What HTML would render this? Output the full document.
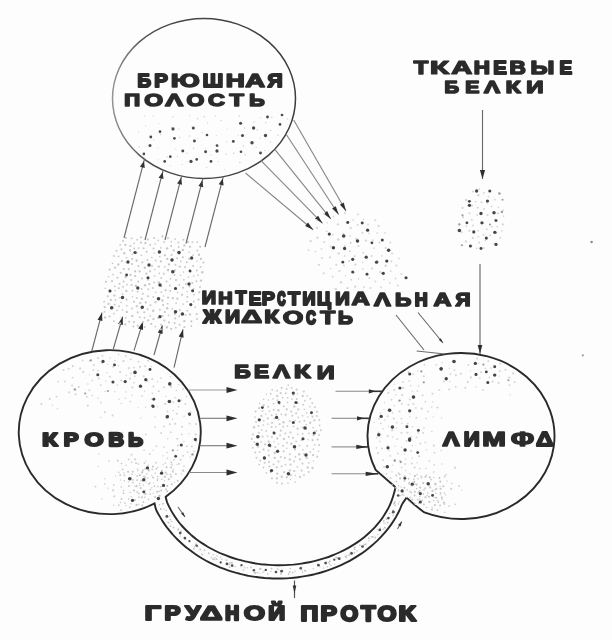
<!DOCTYPE html>
<html><head><meta charset="utf-8"><style>
html,body{margin:0;padding:0;background:#fdfdfd;}
svg{display:block;font-family:"Liberation Sans",sans-serif;filter:blur(0.55px);}
</style></head><body>
<svg width="612" height="640" viewBox="0 0 612 640">
<rect width="612" height="640" fill="#fdfdfd"/>
<g fill="none" stroke="#2a2a2a" stroke-width="1.9">
<defs><linearGradient id="tg" gradientUnits="userSpaceOnUse" x1="110" y1="0" x2="300" y2="0"><stop offset="0" stop-color="#999"/><stop offset="0.2" stop-color="#4a4a4a"/><stop offset="1" stop-color="#3c3c3c"/></linearGradient></defs>
<ellipse cx="204" cy="98.5" rx="91.5" ry="80" stroke="url(#tg)" stroke-width="1.5"/>
<path d="M154.8,503.4 A91,82 0 1 1 165.3,497.1"/>
<path d="M406.6,497.6 Q414,505 424.4,512.4 A93.5,83 0 1 0 375.7,470.0 Q386,479 395.5,487.2"/>
<path d="M165.5,496.5 C165.8,497.5 166.5,500.6 167.2,502.6 C168.0,504.6 169.0,506.5 170.0,508.4 C171.0,510.4 172.1,512.3 173.2,514.1 C174.4,516.0 175.6,517.9 177.0,519.7 C178.3,521.5 179.7,523.2 181.2,525.0 C182.7,526.7 184.3,528.4 185.9,530.0 C187.6,531.7 189.3,533.3 191.1,534.9 C192.9,536.4 194.8,537.9 196.7,539.4 C198.6,540.8 200.6,542.2 202.7,543.6 C204.7,544.9 206.9,546.2 209.0,547.5 C211.2,548.7 213.4,549.9 215.7,551.0 C218.0,552.1 220.3,553.2 222.7,554.2 C225.1,555.2 227.5,556.1 230.0,557.0 C232.4,557.9 234.9,558.7 237.5,559.4 C240.0,560.1 242.6,560.8 245.1,561.4 C247.7,562.0 250.4,562.5 253.0,563.0 C255.6,563.5 258.3,563.8 261.0,564.2 C263.7,564.5 266.4,564.7 269.1,564.9 C271.8,565.1 274.5,565.2 277.2,565.2 C279.9,565.3 282.6,565.2 285.3,565.1 C288.0,565.0 290.7,564.8 293.4,564.6 C296.1,564.3 298.8,564.0 301.4,563.6 C304.1,563.2 306.7,562.7 309.3,562.2 C312.0,561.7 314.6,561.1 317.1,560.4 C319.7,559.7 322.2,559.0 324.7,558.2 C327.2,557.4 329.7,556.5 332.1,555.5 C334.5,554.6 336.9,553.6 339.2,552.5 C341.5,551.5 343.8,550.3 346.0,549.2 C348.3,548.0 350.4,546.7 352.5,545.4 C354.7,544.1 356.7,542.8 358.7,541.4 C360.7,540.0 362.6,538.5 364.5,537.0 C366.3,535.5 368.1,533.9 369.8,532.3 C371.5,530.7 373.2,529.0 374.8,527.4 C376.3,525.7 377.8,523.9 379.2,522.2 C380.6,520.4 382.0,518.6 383.2,516.7 C384.5,514.9 385.6,513.0 386.7,511.1 C387.8,509.2 388.8,507.3 389.7,505.3 C390.6,503.4 391.4,501.4 392.1,499.4 C392.8,497.4 393.5,495.4 394.0,493.3 C394.6,491.3 395.3,488.2 395.5,487.2"/>
<path d="M154.4,502.5 C154.7,503.7 155.2,507.2 156.0,509.4 C156.8,511.7 158.2,513.8 159.4,515.9 C160.6,518.0 161.8,520.1 163.2,522.1 C164.6,524.2 166.0,526.2 167.5,528.2 C169.0,530.1 170.6,532.1 172.3,534.0 C173.9,535.9 175.7,537.7 177.5,539.5 C179.3,541.3 181.2,543.0 183.1,544.7 C185.0,546.4 187.0,548.1 189.1,549.6 C191.2,551.2 193.3,552.8 195.5,554.2 C197.7,555.7 199.9,557.1 202.2,558.5 C204.5,559.8 206.9,561.1 209.2,562.3 C211.6,563.6 214.1,564.7 216.6,565.8 C219.0,566.9 221.6,568.0 224.1,568.9 C226.7,569.9 229.3,570.8 231.9,571.6 C234.5,572.4 237.2,573.2 239.9,573.8 C242.6,574.5 245.3,575.1 248.0,575.7 C250.8,576.2 253.5,576.7 256.3,577.0 C259.1,577.4 261.9,577.7 264.7,578.0 C267.4,578.2 270.3,578.4 273.1,578.5 C275.9,578.6 278.7,578.6 281.5,578.5 C284.3,578.4 287.1,578.3 289.9,578.1 C292.7,577.9 295.5,577.6 298.3,577.2 C301.0,576.9 303.8,576.4 306.5,575.9 C309.3,575.4 312.0,574.8 314.7,574.2 C317.4,573.5 320.1,572.8 322.7,572.0 C325.4,571.2 328.0,570.3 330.5,569.4 C333.1,568.4 335.7,567.4 338.1,566.4 C340.6,565.3 343.1,564.1 345.5,562.9 C347.9,561.7 350.3,560.5 352.6,559.1 C354.9,557.8 357.2,556.4 359.4,554.9 C361.6,553.5 363.7,552.0 365.8,550.4 C367.9,548.8 369.9,547.2 371.9,545.5 C373.8,543.9 375.7,542.1 377.6,540.4 C379.4,538.6 381.1,536.8 382.8,534.9 C384.5,533.0 386.1,531.1 387.7,529.1 C389.2,527.2 390.7,525.2 392.1,523.1 C393.4,521.1 394.7,519.0 396.0,516.9 C397.2,514.8 398.3,512.7 399.4,510.5 C400.5,508.3 401.1,506.1 402.3,503.9 C403.5,501.8 405.9,498.7 406.6,497.6"/>
</g>
<line x1="124.0" y1="238.0" x2="144.5" y2="159.1" stroke="#6a6a6a" stroke-width="1.15"/>
<polygon points="144.0,161.1 144.8,168.0 139.9,166.7" fill="#333"/>
<line x1="145.0" y1="240.0" x2="163.2" y2="170.1" stroke="#6a6a6a" stroke-width="1.15"/>
<polygon points="162.7,172.0 163.5,178.9 158.6,177.7" fill="#333"/>
<line x1="165.0" y1="240.0" x2="181.7" y2="175.9" stroke="#6a6a6a" stroke-width="1.15"/>
<polygon points="181.2,177.8 182.0,184.7 177.1,183.5" fill="#333"/>
<line x1="186.0" y1="243.5" x2="202.9" y2="178.4" stroke="#6a6a6a" stroke-width="1.15"/>
<polygon points="202.4,180.3 203.2,187.3 198.4,186.0" fill="#333"/>
<line x1="205.0" y1="247.0" x2="223.3" y2="176.6" stroke="#6a6a6a" stroke-width="1.15"/>
<polygon points="222.8,178.5 223.6,185.4 218.7,184.2" fill="#333"/>
<line x1="91.8" y1="351.0" x2="102.0" y2="312.7" stroke="#6a6a6a" stroke-width="1.15"/>
<polygon points="102.0,312.7 102.4,321.1 97.5,319.8" fill="#2e2e2e"/>
<line x1="113.3" y1="349.0" x2="122.7" y2="316.7" stroke="#6a6a6a" stroke-width="1.15"/>
<polygon points="122.7,316.7 122.9,325.1 118.1,323.7" fill="#2e2e2e"/>
<line x1="134.0" y1="350.6" x2="143.0" y2="321.6" stroke="#6a6a6a" stroke-width="1.15"/>
<polygon points="143.0,321.6 143.0,330.0 138.2,328.5" fill="#2e2e2e"/>
<line x1="154.0" y1="355.0" x2="162.4" y2="325.5" stroke="#6a6a6a" stroke-width="1.15"/>
<polygon points="162.4,325.5 162.6,333.9 157.8,332.5" fill="#2e2e2e"/>
<line x1="174.0" y1="367.6" x2="183.0" y2="329.4" stroke="#6a6a6a" stroke-width="1.15"/>
<polygon points="183.0,329.4 183.6,337.8 178.7,336.6" fill="#2e2e2e"/>
<line x1="245.5" y1="173.0" x2="313.1" y2="229.7" stroke="#888" stroke-width="1.15"/>
<polygon points="313.1,229.7 305.2,225.9 308.0,222.6" fill="#2e2e2e"/>
<line x1="261.0" y1="160.6" x2="322.5" y2="223.3" stroke="#888" stroke-width="1.15"/>
<polygon points="322.5,223.3 315.0,218.8 318.1,215.7" fill="#2e2e2e"/>
<line x1="275.0" y1="149.7" x2="330.8" y2="218.9" stroke="#888" stroke-width="1.15"/>
<polygon points="330.8,218.9 323.8,213.7 327.2,210.9" fill="#2e2e2e"/>
<line x1="286.0" y1="134.0" x2="338.6" y2="214.5" stroke="#888" stroke-width="1.15"/>
<polygon points="338.6,214.5 332.1,208.6 335.8,206.2" fill="#2e2e2e"/>
<line x1="293.7" y1="120.0" x2="346.0" y2="211.0" stroke="#888" stroke-width="1.15"/>
<polygon points="346.0,211.0 339.9,204.7 343.7,202.5" fill="#2e2e2e"/>
<line x1="396.0" y1="315.0" x2="424.0" y2="350.0" stroke="#6a6a6a" stroke-width="1.15"/>
<line x1="418.0" y1="312.5" x2="443.0" y2="343.0" stroke="#6a6a6a" stroke-width="1.15"/>
<polygon points="443.0,343.0 438.9,339.9 440.8,338.3" fill="#333"/>
<line x1="416.7" y1="351.0" x2="445.0" y2="354.0" stroke="#6a6a6a" stroke-width="1.15"/>
<line x1="482.5" y1="110.0" x2="482.5" y2="179.0" stroke="#6a6a6a" stroke-width="1.15"/>
<polygon points="482.5,179.0 479.9,170.0 485.1,170.0" fill="#2e2e2e"/>
<line x1="480.0" y1="264.0" x2="480.0" y2="354.0" stroke="#6a6a6a" stroke-width="1.15"/>
<polygon points="480.0,354.0 477.7,345.0 482.3,345.0" fill="#2e2e2e"/>
<line x1="188.2" y1="390.0" x2="230.0" y2="390.0" stroke="#999" stroke-width="1.1"/>
<polygon points="237.5,390.0 226.5,392.9 226.5,387.1" fill="#2e2e2e"/>
<line x1="199.7" y1="418.3" x2="230.0" y2="418.3" stroke="#777" stroke-width="1.1"/>
<polygon points="237.5,418.3 226.5,421.2 226.5,415.4" fill="#2e2e2e"/>
<line x1="199.7" y1="445.7" x2="230.0" y2="445.7" stroke="#777" stroke-width="1.1"/>
<polygon points="237.5,445.7 226.5,448.6 226.5,442.8" fill="#2e2e2e"/>
<line x1="189.1" y1="472.5" x2="230.0" y2="472.5" stroke="#888" stroke-width="1.1"/>
<polygon points="237.5,472.5 226.5,475.4 226.5,469.6" fill="#2e2e2e"/>
<line x1="335.5" y1="391.3" x2="369.8" y2="391.3" stroke="#888" stroke-width="1.1"/>
<line x1="369.8" y1="391.3" x2="382.7" y2="391.3" stroke="#333" stroke-width="1.6"/>
<polygon points="375.8,391.3 368.8,393.4 368.8,389.2" fill="#2e2e2e"/>
<line x1="331.6" y1="418.3" x2="358.0" y2="418.3" stroke="#888" stroke-width="1.1"/>
<line x1="358.0" y1="418.3" x2="370.2" y2="418.3" stroke="#333" stroke-width="1.6"/>
<polygon points="364.1,418.3 357.0,420.4 357.0,416.2" fill="#2e2e2e"/>
<line x1="331.6" y1="446.9" x2="357.3" y2="446.9" stroke="#888" stroke-width="1.1"/>
<line x1="357.3" y1="446.9" x2="368.8" y2="446.9" stroke="#333" stroke-width="1.6"/>
<polygon points="367.2,446.9 356.3,449.0 356.3,444.8" fill="#2e2e2e"/>
<line x1="331.6" y1="473.8" x2="366.7" y2="473.8" stroke="#888" stroke-width="1.1"/>
<line x1="366.7" y1="473.8" x2="378.3" y2="473.8" stroke="#333" stroke-width="1.6"/>
<polygon points="377.4,473.8 365.7,475.9 365.7,471.7" fill="#2e2e2e"/>
<line x1="294.5" y1="580.5" x2="294.5" y2="598.0" stroke="#555" stroke-width="1.2"/>
<polygon points="294.5,593.5 292.7,585.5 296.3,585.5" fill="#333"/>
<line x1="178.0" y1="507.0" x2="185.0" y2="517.0" stroke="#6a6a6a" stroke-width="1.15"/>
<polygon points="185.0,517.0 181.1,513.6 183.2,512.2" fill="#2e2e2e"/>
<line x1="397.5" y1="529.0" x2="401.8" y2="521.5" stroke="#6a6a6a" stroke-width="1.15"/>
<polygon points="401.8,521.5 400.6,526.6 398.0,525.1" fill="#2e2e2e"/>
<circle cx="150.8" cy="137.0" r="1.43" fill="#4a4a4a"/><circle cx="160.0" cy="131.7" r="1.36" fill="#4a4a4a"/><circle cx="173.0" cy="128.9" r="1.56" fill="#4a4a4a"/><circle cx="174.4" cy="138.3" r="1.33" fill="#4a4a4a"/><circle cx="193.3" cy="128.0" r="1.51" fill="#4a4a4a"/><circle cx="194.4" cy="141.0" r="1.45" fill="#4a4a4a"/><circle cx="207.0" cy="135.0" r="1.32" fill="#4a4a4a"/><circle cx="150.0" cy="145.6" r="1.50" fill="#4a4a4a"/><circle cx="143.9" cy="153.9" r="1.31" fill="#4a4a4a"/><circle cx="182.8" cy="151.0" r="1.47" fill="#4a4a4a"/><circle cx="170.3" cy="156.7" r="1.33" fill="#4a4a4a"/><circle cx="196.7" cy="159.4" r="1.34" fill="#4a4a4a"/><circle cx="205.6" cy="151.7" r="1.47" fill="#4a4a4a"/><circle cx="217.0" cy="151.0" r="1.63" fill="#4a4a4a"/><circle cx="217.0" cy="145.6" r="1.35" fill="#4a4a4a"/><circle cx="211.0" cy="161.4" r="1.39" fill="#4a4a4a"/><circle cx="240.6" cy="123.3" r="1.55" fill="#4a4a4a"/><circle cx="253.6" cy="128.0" r="1.68" fill="#4a4a4a"/><circle cx="242.5" cy="135.5" r="1.53" fill="#4a4a4a"/><circle cx="233.3" cy="141.4" r="1.46" fill="#4a4a4a"/><circle cx="252.0" cy="142.8" r="1.69" fill="#4a4a4a"/><circle cx="241.0" cy="151.7" r="1.32" fill="#4a4a4a"/><circle cx="265.5" cy="135.5" r="1.64" fill="#4a4a4a"/><circle cx="267.5" cy="117.0" r="1.42" fill="#4a4a4a"/><circle cx="280.0" cy="124.4" r="1.36" fill="#4a4a4a"/><circle cx="282.0" cy="115.0" r="1.35" fill="#4a4a4a"/><circle cx="260.5" cy="153.0" r="1.42" fill="#4a4a4a"/><circle cx="191.0" cy="161.4" r="1.63" fill="#4a4a4a"/><circle cx="164.7" cy="161.4" r="1.37" fill="#4a4a4a"/>
<circle cx="226.3" cy="154.2" r="0.71" fill="#d0d0d0"/><circle cx="193.5" cy="148.2" r="0.70" fill="#d0d0d0"/><circle cx="144.9" cy="115.9" r="0.59" fill="#d0d0d0"/><circle cx="167.3" cy="156.9" r="0.65" fill="#d0d0d0"/><circle cx="202.1" cy="132.7" r="0.64" fill="#d0d0d0"/><circle cx="226.9" cy="141.9" r="0.64" fill="#d0d0d0"/><circle cx="182.1" cy="164.4" r="0.54" fill="#d0d0d0"/><circle cx="244.7" cy="128.1" r="0.77" fill="#d0d0d0"/><circle cx="153.5" cy="139.6" r="0.56" fill="#d0d0d0"/><circle cx="253.9" cy="122.0" r="0.79" fill="#d0d0d0"/><circle cx="239.9" cy="162.5" r="0.78" fill="#d0d0d0"/><circle cx="225.0" cy="169.8" r="0.51" fill="#d0d0d0"/><circle cx="206.6" cy="167.4" r="0.64" fill="#d0d0d0"/><circle cx="239.3" cy="116.0" r="0.75" fill="#d0d0d0"/><circle cx="245.1" cy="154.7" r="0.79" fill="#d0d0d0"/><circle cx="179.7" cy="137.5" r="0.63" fill="#d0d0d0"/><circle cx="207.5" cy="123.1" r="0.58" fill="#d0d0d0"/><circle cx="153.4" cy="115.9" r="0.56" fill="#d0d0d0"/><circle cx="271.8" cy="117.3" r="0.78" fill="#d0d0d0"/><circle cx="205.5" cy="148.3" r="0.56" fill="#d0d0d0"/><circle cx="270.6" cy="130.4" r="0.67" fill="#d0d0d0"/><circle cx="158.7" cy="123.6" r="0.54" fill="#d0d0d0"/><circle cx="171.4" cy="127.4" r="0.66" fill="#d0d0d0"/><circle cx="243.4" cy="146.0" r="0.79" fill="#d0d0d0"/><circle cx="260.3" cy="137.9" r="0.54" fill="#d0d0d0"/><circle cx="197.6" cy="118.8" r="0.75" fill="#d0d0d0"/><circle cx="145.6" cy="125.8" r="0.65" fill="#d0d0d0"/><circle cx="160.5" cy="134.4" r="0.77" fill="#d0d0d0"/><circle cx="189.5" cy="136.0" r="0.71" fill="#d0d0d0"/><circle cx="158.0" cy="147.8" r="0.57" fill="#d0d0d0"/><circle cx="139.2" cy="146.9" r="0.77" fill="#d0d0d0"/><circle cx="256.2" cy="147.2" r="0.65" fill="#d0d0d0"/><circle cx="170.0" cy="165.6" r="0.51" fill="#d0d0d0"/><circle cx="216.3" cy="135.5" r="0.50" fill="#d0d0d0"/><circle cx="178.9" cy="129.1" r="0.65" fill="#d0d0d0"/><circle cx="192.2" cy="126.6" r="0.64" fill="#d0d0d0"/><circle cx="210.3" cy="155.1" r="0.59" fill="#d0d0d0"/><circle cx="260.5" cy="117.6" r="0.54" fill="#d0d0d0"/><circle cx="197.1" cy="138.5" r="0.60" fill="#d0d0d0"/><circle cx="238.2" cy="135.1" r="0.59" fill="#d0d0d0"/><circle cx="221.1" cy="120.6" r="0.75" fill="#d0d0d0"/><circle cx="227.1" cy="129.1" r="0.50" fill="#d0d0d0"/><circle cx="277.9" cy="135.3" r="0.73" fill="#d0d0d0"/><circle cx="218.5" cy="146.6" r="0.75" fill="#d0d0d0"/><circle cx="175.8" cy="148.9" r="0.54" fill="#d0d0d0"/><circle cx="204.4" cy="116.8" r="0.78" fill="#d0d0d0"/><circle cx="172.8" cy="116.8" r="0.71" fill="#d0d0d0"/><circle cx="265.7" cy="122.7" r="0.77" fill="#d0d0d0"/><circle cx="187.0" cy="153.2" r="0.59" fill="#d0d0d0"/><circle cx="215.4" cy="116.2" r="0.61" fill="#d0d0d0"/><circle cx="287.6" cy="118.9" r="0.62" fill="#d0d0d0"/><circle cx="257.3" cy="129.8" r="0.80" fill="#d0d0d0"/><circle cx="270.5" cy="141.9" r="0.68" fill="#d0d0d0"/><circle cx="189.6" cy="115.6" r="0.61" fill="#d0d0d0"/><circle cx="138.5" cy="132.1" r="0.63" fill="#d0d0d0"/><circle cx="218.1" cy="161.5" r="0.58" fill="#d0d0d0"/><circle cx="158.5" cy="159.8" r="0.51" fill="#d0d0d0"/><circle cx="264.7" cy="150.5" r="0.53" fill="#d0d0d0"/><circle cx="233.6" cy="153.3" r="0.75" fill="#d0d0d0"/><circle cx="177.2" cy="156.4" r="0.59" fill="#d0d0d0"/>
<circle cx="200.9" cy="258.9" r="1.15" fill="#c8c8c8"/><circle cx="154.2" cy="253.0" r="0.83" fill="#c8c8c8"/><circle cx="187.3" cy="297.1" r="1.01" fill="#c8c8c8"/><circle cx="147.6" cy="309.3" r="1.05" fill="#c8c8c8"/><circle cx="112.0" cy="281.2" r="1.10" fill="#c8c8c8"/><circle cx="126.6" cy="299.6" r="1.02" fill="#c8c8c8"/><circle cx="159.3" cy="273.4" r="0.82" fill="#c8c8c8"/><circle cx="126.4" cy="291.0" r="1.14" fill="#c8c8c8"/><circle cx="180.5" cy="275.3" r="0.82" fill="#c8c8c8"/><circle cx="153.4" cy="297.0" r="0.94" fill="#c8c8c8"/><circle cx="121.8" cy="261.1" r="1.06" fill="#c8c8c8"/><circle cx="142.0" cy="278.6" r="1.02" fill="#c8c8c8"/><circle cx="191.4" cy="321.3" r="1.09" fill="#c8c8c8"/><circle cx="196.5" cy="281.3" r="0.98" fill="#c8c8c8"/><circle cx="125.3" cy="244.9" r="1.15" fill="#c8c8c8"/><circle cx="155.5" cy="302.2" r="1.14" fill="#c8c8c8"/><circle cx="177.4" cy="298.7" r="1.09" fill="#c8c8c8"/><circle cx="148.3" cy="289.2" r="0.90" fill="#c8c8c8"/><circle cx="169.0" cy="264.4" r="1.13" fill="#c8c8c8"/><circle cx="155.7" cy="292.3" r="0.80" fill="#c8c8c8"/><circle cx="122.6" cy="294.1" r="0.86" fill="#c8c8c8"/><circle cx="131.2" cy="280.1" r="0.99" fill="#c8c8c8"/><circle cx="168.9" cy="322.4" r="1.03" fill="#c8c8c8"/><circle cx="175.5" cy="264.7" r="0.95" fill="#c8c8c8"/><circle cx="135.2" cy="276.1" r="1.15" fill="#c8c8c8"/><circle cx="132.3" cy="316.0" r="1.18" fill="#c8c8c8"/><circle cx="122.4" cy="310.0" r="0.83" fill="#c8c8c8"/><circle cx="118.6" cy="256.3" r="0.92" fill="#c8c8c8"/><circle cx="171.2" cy="328.9" r="1.07" fill="#c8c8c8"/><circle cx="141.3" cy="255.3" r="0.90" fill="#c8c8c8"/><circle cx="200.5" cy="266.9" r="0.94" fill="#c8c8c8"/><circle cx="139.6" cy="271.4" r="1.08" fill="#c8c8c8"/><circle cx="128.8" cy="269.1" r="1.05" fill="#c8c8c8"/><circle cx="188.4" cy="277.2" r="0.81" fill="#c8c8c8"/><circle cx="150.1" cy="271.3" r="1.10" fill="#c8c8c8"/><circle cx="187.3" cy="310.7" r="0.92" fill="#c8c8c8"/><circle cx="126.8" cy="305.7" r="0.83" fill="#c8c8c8"/><circle cx="123.7" cy="281.5" r="0.97" fill="#c8c8c8"/><circle cx="125.6" cy="277.0" r="1.17" fill="#c8c8c8"/><circle cx="179.2" cy="316.3" r="0.95" fill="#c8c8c8"/><circle cx="164.8" cy="266.8" r="0.85" fill="#c8c8c8"/><circle cx="137.8" cy="312.2" r="1.05" fill="#c8c8c8"/><circle cx="158.8" cy="266.6" r="1.19" fill="#c8c8c8"/><circle cx="172.2" cy="308.8" r="0.90" fill="#c8c8c8"/><circle cx="171.1" cy="246.1" r="1.06" fill="#c8c8c8"/><circle cx="179.2" cy="253.9" r="0.97" fill="#c8c8c8"/><circle cx="150.2" cy="315.9" r="0.86" fill="#c8c8c8"/><circle cx="130.3" cy="245.9" r="1.00" fill="#c8c8c8"/><circle cx="147.4" cy="260.0" r="0.93" fill="#c8c8c8"/><circle cx="163.6" cy="296.0" r="0.83" fill="#c8c8c8"/><circle cx="138.6" cy="248.1" r="0.89" fill="#c8c8c8"/><circle cx="134.0" cy="301.8" r="1.00" fill="#c8c8c8"/><circle cx="132.3" cy="254.3" r="0.81" fill="#c8c8c8"/><circle cx="158.3" cy="240.3" r="0.91" fill="#c8c8c8"/><circle cx="141.5" cy="289.0" r="0.91" fill="#c8c8c8"/><circle cx="174.5" cy="275.0" r="0.96" fill="#c8c8c8"/><circle cx="132.4" cy="290.7" r="0.89" fill="#c8c8c8"/><circle cx="142.7" cy="322.3" r="0.91" fill="#c8c8c8"/><circle cx="158.7" cy="298.1" r="1.05" fill="#c8c8c8"/><circle cx="107.8" cy="296.2" r="1.04" fill="#c8c8c8"/><circle cx="153.5" cy="248.6" r="1.00" fill="#c8c8c8"/><circle cx="155.3" cy="326.5" r="0.85" fill="#c8c8c8"/><circle cx="189.2" cy="252.3" r="0.80" fill="#c8c8c8"/><circle cx="159.9" cy="309.7" r="0.94" fill="#c8c8c8"/><circle cx="170.5" cy="278.7" r="0.92" fill="#c8c8c8"/><circle cx="151.8" cy="257.5" r="0.81" fill="#c8c8c8"/><circle cx="183.8" cy="279.8" r="0.90" fill="#c8c8c8"/><circle cx="150.1" cy="244.7" r="1.05" fill="#c8c8c8"/><circle cx="145.4" cy="243.2" r="1.16" fill="#c8c8c8"/><circle cx="154.1" cy="238.1" r="1.00" fill="#c8c8c8"/><circle cx="126.9" cy="284.6" r="0.88" fill="#c8c8c8"/><circle cx="184.3" cy="245.5" r="1.16" fill="#c8c8c8"/><circle cx="168.0" cy="270.0" r="1.20" fill="#c8c8c8"/><circle cx="146.7" cy="251.7" r="1.02" fill="#c8c8c8"/><circle cx="162.4" cy="300.4" r="1.17" fill="#c8c8c8"/><circle cx="114.4" cy="295.6" r="1.15" fill="#c8c8c8"/><circle cx="109.7" cy="269.7" r="1.08" fill="#c8c8c8"/><circle cx="166.6" cy="281.5" r="0.99" fill="#c8c8c8"/><circle cx="125.3" cy="324.4" r="1.16" fill="#c8c8c8"/><circle cx="104.4" cy="311.9" r="0.92" fill="#c8c8c8"/><circle cx="168.6" cy="315.3" r="0.89" fill="#c8c8c8"/><circle cx="132.0" cy="264.0" r="1.07" fill="#c8c8c8"/><circle cx="191.0" cy="305.2" r="1.03" fill="#c8c8c8"/><circle cx="155.6" cy="260.5" r="0.90" fill="#c8c8c8"/><circle cx="126.6" cy="257.6" r="0.91" fill="#c8c8c8"/><circle cx="134.0" cy="322.0" r="1.06" fill="#c8c8c8"/><circle cx="167.7" cy="303.7" r="0.88" fill="#c8c8c8"/><circle cx="126.2" cy="262.3" r="0.85" fill="#c8c8c8"/><circle cx="138.5" cy="266.1" r="1.00" fill="#c8c8c8"/><circle cx="153.4" cy="319.1" r="1.15" fill="#c8c8c8"/><circle cx="175.5" cy="287.8" r="1.09" fill="#c8c8c8"/><circle cx="124.2" cy="253.2" r="1.17" fill="#c8c8c8"/><circle cx="175.3" cy="318.4" r="1.03" fill="#c8c8c8"/><circle cx="119.6" cy="297.8" r="0.82" fill="#c8c8c8"/><circle cx="120.7" cy="272.8" r="1.11" fill="#c8c8c8"/><circle cx="179.5" cy="324.8" r="0.99" fill="#c8c8c8"/><circle cx="183.1" cy="304.0" r="0.87" fill="#c8c8c8"/><circle cx="172.8" cy="298.2" r="1.12" fill="#c8c8c8"/><circle cx="132.4" cy="296.8" r="0.80" fill="#c8c8c8"/><circle cx="144.2" cy="312.2" r="1.07" fill="#c8c8c8"/><circle cx="167.3" cy="259.0" r="1.13" fill="#c8c8c8"/><circle cx="148.1" cy="296.2" r="1.02" fill="#c8c8c8"/><circle cx="155.1" cy="244.1" r="0.83" fill="#c8c8c8"/><circle cx="121.1" cy="302.4" r="0.84" fill="#c8c8c8"/><circle cx="137.1" cy="239.7" r="0.87" fill="#c8c8c8"/><circle cx="136.7" cy="260.5" r="1.17" fill="#c8c8c8"/><circle cx="159.8" cy="256.6" r="0.91" fill="#c8c8c8"/><circle cx="136.8" cy="297.9" r="0.95" fill="#c8c8c8"/><circle cx="164.9" cy="312.1" r="1.09" fill="#c8c8c8"/><circle cx="152.8" cy="288.0" r="0.95" fill="#c8c8c8"/><circle cx="190.5" cy="271.5" r="1.10" fill="#c8c8c8"/><circle cx="168.1" cy="297.6" r="1.14" fill="#c8c8c8"/><circle cx="154.2" cy="282.5" r="0.99" fill="#c8c8c8"/><circle cx="138.3" cy="281.5" r="1.02" fill="#c8c8c8"/><circle cx="185.1" cy="267.1" r="1.04" fill="#c8c8c8"/><circle cx="198.5" cy="299.6" r="1.06" fill="#c8c8c8"/><circle cx="187.1" cy="291.5" r="0.81" fill="#c8c8c8"/><circle cx="121.4" cy="249.2" r="0.95" fill="#c8c8c8"/><circle cx="177.1" cy="258.2" r="0.95" fill="#c8c8c8"/><circle cx="178.3" cy="242.4" r="0.95" fill="#c8c8c8"/><circle cx="176.0" cy="280.1" r="1.12" fill="#c8c8c8"/><circle cx="187.9" cy="242.0" r="1.14" fill="#c8c8c8"/><circle cx="161.2" cy="277.9" r="0.96" fill="#c8c8c8"/><circle cx="113.9" cy="313.7" r="0.87" fill="#c8c8c8"/><circle cx="186.8" cy="262.3" r="1.01" fill="#c8c8c8"/><circle cx="160.9" cy="261.4" r="1.11" fill="#c8c8c8"/><circle cx="182.9" cy="257.3" r="0.96" fill="#c8c8c8"/><circle cx="175.1" cy="270.3" r="0.96" fill="#c8c8c8"/><circle cx="135.9" cy="285.9" r="1.18" fill="#c8c8c8"/><circle cx="126.8" cy="311.9" r="1.17" fill="#c8c8c8"/><circle cx="125.9" cy="237.8" r="1.11" fill="#c8c8c8"/><circle cx="163.8" cy="273.7" r="0.98" fill="#c8c8c8"/><circle cx="167.1" cy="248.3" r="1.17" fill="#c8c8c8"/><circle cx="113.9" cy="321.1" r="0.94" fill="#c8c8c8"/><circle cx="152.0" cy="265.8" r="1.00" fill="#c8c8c8"/><circle cx="171.5" cy="255.1" r="0.99" fill="#c8c8c8"/><circle cx="189.5" cy="286.7" r="0.84" fill="#c8c8c8"/><circle cx="160.8" cy="247.8" r="0.86" fill="#c8c8c8"/><circle cx="193.2" cy="266.1" r="1.00" fill="#c8c8c8"/><circle cx="108.6" cy="303.9" r="1.16" fill="#c8c8c8"/><circle cx="161.4" cy="286.3" r="0.93" fill="#c8c8c8"/><circle cx="112.5" cy="263.4" r="0.83" fill="#c8c8c8"/><circle cx="158.1" cy="318.0" r="1.00" fill="#c8c8c8"/><circle cx="182.9" cy="249.9" r="1.19" fill="#c8c8c8"/><circle cx="115.0" cy="267.7" r="1.11" fill="#c8c8c8"/><circle cx="179.8" cy="310.0" r="0.97" fill="#c8c8c8"/><circle cx="194.0" cy="294.7" r="0.85" fill="#c8c8c8"/><circle cx="147.8" cy="279.8" r="0.94" fill="#c8c8c8"/><circle cx="118.3" cy="264.4" r="1.17" fill="#c8c8c8"/><circle cx="161.3" cy="292.2" r="0.85" fill="#c8c8c8"/><circle cx="183.1" cy="287.8" r="1.00" fill="#c8c8c8"/><circle cx="168.0" cy="238.2" r="0.99" fill="#c8c8c8"/><circle cx="119.6" cy="283.8" r="0.97" fill="#c8c8c8"/><circle cx="189.9" cy="246.8" r="1.10" fill="#c8c8c8"/><circle cx="190.0" cy="314.5" r="1.13" fill="#c8c8c8"/><circle cx="136.8" cy="306.2" r="1.15" fill="#c8c8c8"/><circle cx="164.9" cy="255.3" r="1.16" fill="#c8c8c8"/><circle cx="170.3" cy="290.8" r="1.02" fill="#c8c8c8"/><circle cx="140.9" cy="242.6" r="1.09" fill="#c8c8c8"/><circle cx="110.0" cy="290.2" r="1.15" fill="#c8c8c8"/><circle cx="145.8" cy="302.4" r="1.16" fill="#c8c8c8"/><circle cx="141.3" cy="308.8" r="0.87" fill="#c8c8c8"/><circle cx="144.6" cy="327.0" r="1.08" fill="#c8c8c8"/><circle cx="147.8" cy="239.4" r="1.04" fill="#c8c8c8"/><circle cx="145.1" cy="285.2" r="1.20" fill="#c8c8c8"/><circle cx="118.9" cy="288.3" r="1.03" fill="#c8c8c8"/><circle cx="179.7" cy="266.7" r="1.12" fill="#c8c8c8"/><circle cx="173.7" cy="250.4" r="1.16" fill="#c8c8c8"/><circle cx="119.0" cy="306.3" r="0.96" fill="#c8c8c8"/><circle cx="154.6" cy="276.1" r="0.86" fill="#c8c8c8"/><circle cx="197.4" cy="250.4" r="0.98" fill="#c8c8c8"/><circle cx="160.8" cy="329.3" r="1.16" fill="#c8c8c8"/><circle cx="183.4" cy="239.8" r="1.01" fill="#c8c8c8"/><circle cx="172.3" cy="259.5" r="1.20" fill="#c8c8c8"/><circle cx="179.3" cy="284.9" r="0.93" fill="#c8c8c8"/><circle cx="123.8" cy="268.9" r="1.00" fill="#c8c8c8"/><circle cx="199.3" cy="292.3" r="1.10" fill="#c8c8c8"/><circle cx="151.3" cy="323.9" r="1.07" fill="#c8c8c8"/><circle cx="164.3" cy="320.4" r="1.11" fill="#c8c8c8"/><circle cx="164.1" cy="241.9" r="0.91" fill="#c8c8c8"/><circle cx="134.2" cy="243.3" r="0.87" fill="#c8c8c8"/><circle cx="159.1" cy="252.2" r="1.08" fill="#c8c8c8"/><circle cx="195.1" cy="307.1" r="0.91" fill="#c8c8c8"/><circle cx="167.2" cy="308.3" r="1.18" fill="#c8c8c8"/><circle cx="200.0" cy="286.9" r="1.00" fill="#c8c8c8"/><circle cx="139.9" cy="317.2" r="0.95" fill="#c8c8c8"/><circle cx="130.5" cy="274.8" r="1.17" fill="#c8c8c8"/><circle cx="121.2" cy="317.8" r="0.89" fill="#c8c8c8"/><circle cx="199.0" cy="254.7" r="1.20" fill="#c8c8c8"/><circle cx="141.1" cy="237.3" r="1.00" fill="#c8c8c8"/><circle cx="184.3" cy="321.1" r="1.18" fill="#c8c8c8"/><circle cx="125.7" cy="317.8" r="0.88" fill="#c8c8c8"/><circle cx="171.3" cy="241.6" r="0.86" fill="#c8c8c8"/><circle cx="176.1" cy="303.1" r="0.85" fill="#c8c8c8"/><circle cx="137.9" cy="325.7" r="1.06" fill="#c8c8c8"/><circle cx="136.5" cy="252.6" r="1.15" fill="#c8c8c8"/><circle cx="177.7" cy="292.5" r="0.83" fill="#c8c8c8"/><circle cx="105.9" cy="281.8" r="1.12" fill="#c8c8c8"/><circle cx="142.3" cy="262.3" r="1.06" fill="#c8c8c8"/><circle cx="131.6" cy="238.4" r="0.92" fill="#c8c8c8"/><circle cx="180.8" cy="261.4" r="0.84" fill="#c8c8c8"/><circle cx="109.5" cy="316.5" r="1.08" fill="#c8c8c8"/><circle cx="117.4" cy="277.8" r="0.98" fill="#c8c8c8"/><circle cx="115.4" cy="299.9" r="0.84" fill="#c8c8c8"/><circle cx="193.1" cy="255.2" r="0.85" fill="#c8c8c8"/><circle cx="169.8" cy="285.5" r="0.92" fill="#c8c8c8"/><circle cx="197.2" cy="242.2" r="0.84" fill="#c8c8c8"/><circle cx="193.7" cy="276.0" r="0.86" fill="#c8c8c8"/><circle cx="113.0" cy="274.6" r="0.89" fill="#c8c8c8"/><circle cx="150.5" cy="305.2" r="0.95" fill="#c8c8c8"/><circle cx="144.8" cy="267.8" r="1.19" fill="#c8c8c8"/><circle cx="178.7" cy="247.0" r="0.90" fill="#c8c8c8"/><circle cx="182.0" cy="294.7" r="1.08" fill="#c8c8c8"/><circle cx="198.0" cy="275.1" r="0.84" fill="#c8c8c8"/><circle cx="193.7" cy="288.8" r="0.88" fill="#c8c8c8"/><circle cx="123.0" cy="241.1" r="0.99" fill="#c8c8c8"/><circle cx="196.7" cy="314.0" r="1.05" fill="#c8c8c8"/><circle cx="140.2" cy="303.1" r="1.16" fill="#c8c8c8"/><circle cx="192.3" cy="282.9" r="0.98" fill="#c8c8c8"/><circle cx="161.1" cy="324.7" r="1.02" fill="#c8c8c8"/><circle cx="148.2" cy="320.4" r="1.10" fill="#c8c8c8"/><circle cx="111.0" cy="308.9" r="0.90" fill="#c8c8c8"/><circle cx="135.1" cy="271.4" r="1.11" fill="#c8c8c8"/><circle cx="146.3" cy="273.7" r="1.11" fill="#c8c8c8"/><circle cx="185.6" cy="315.0" r="0.88" fill="#c8c8c8"/><circle cx="165.6" cy="290.3" r="1.10" fill="#c8c8c8"/><circle cx="189.4" cy="258.8" r="1.20" fill="#c8c8c8"/><circle cx="142.9" cy="293.8" r="0.98" fill="#c8c8c8"/><circle cx="115.1" cy="290.8" r="0.81" fill="#c8c8c8"/><circle cx="144.5" cy="317.7" r="0.90" fill="#c8c8c8"/><circle cx="105.2" cy="288.2" r="0.81" fill="#c8c8c8"/><circle cx="153.2" cy="310.8" r="1.20" fill="#c8c8c8"/><circle cx="197.0" cy="261.2" r="0.81" fill="#c8c8c8"/><circle cx="174.8" cy="313.7" r="1.20" fill="#c8c8c8"/><circle cx="104.7" cy="307.2" r="1.10" fill="#c8c8c8"/><circle cx="137.7" cy="291.8" r="0.94" fill="#c8c8c8"/><circle cx="196.8" cy="270.4" r="1.02" fill="#c8c8c8"/><circle cx="187.1" cy="301.6" r="0.92" fill="#c8c8c8"/><circle cx="132.0" cy="308.5" r="0.88" fill="#c8c8c8"/><circle cx="191.4" cy="326.0" r="0.88" fill="#c8c8c8"/><circle cx="114.0" cy="256.0" r="0.92" fill="#c8c8c8"/><circle cx="175.8" cy="327.7" r="0.91" fill="#c8c8c8"/><circle cx="183.5" cy="272.1" r="0.81" fill="#c8c8c8"/><circle cx="132.2" cy="259.1" r="1.14" fill="#c8c8c8"/><circle cx="110.9" cy="299.9" r="1.09" fill="#c8c8c8"/><circle cx="202.3" cy="272.3" r="1.18" fill="#c8c8c8"/><circle cx="154.7" cy="269.5" r="0.83" fill="#c8c8c8"/><circle cx="143.6" cy="248.2" r="1.02" fill="#c8c8c8"/><circle cx="201.0" cy="280.6" r="1.18" fill="#c8c8c8"/><circle cx="158.8" cy="282.5" r="1.20" fill="#c8c8c8"/><circle cx="105.1" cy="317.5" r="1.14" fill="#c8c8c8"/><circle cx="162.4" cy="236.4" r="1.04" fill="#c8c8c8"/><circle cx="184.4" cy="327.1" r="1.02" fill="#c8c8c8"/><circle cx="203.4" cy="262.6" r="1.01" fill="#c8c8c8"/><circle cx="175.2" cy="239.1" r="0.85" fill="#c8c8c8"/><circle cx="114.8" cy="286.3" r="0.86" fill="#c8c8c8"/><circle cx="197.0" cy="319.0" r="0.95" fill="#c8c8c8"/><circle cx="134.2" cy="248.5" r="0.98" fill="#c8c8c8"/><circle cx="108.5" cy="276.8" r="0.81" fill="#c8c8c8"/><circle cx="120.1" cy="323.3" r="1.03" fill="#c8c8c8"/><circle cx="133.4" cy="326.6" r="0.99" fill="#c8c8c8"/><circle cx="104.1" cy="301.7" r="0.88" fill="#c8c8c8"/><circle cx="114.7" cy="304.6" r="0.97" fill="#c8c8c8"/><circle cx="193.8" cy="301.5" r="0.89" fill="#c8c8c8"/><circle cx="163.1" cy="305.1" r="1.06" fill="#c8c8c8"/><circle cx="141.9" cy="298.8" r="1.15" fill="#c8c8c8"/><circle cx="166.9" cy="327.2" r="1.20" fill="#c8c8c8"/><circle cx="174.6" cy="322.9" r="1.02" fill="#c8c8c8"/><circle cx="192.4" cy="242.2" r="0.85" fill="#c8c8c8"/><circle cx="117.1" cy="310.4" r="0.82" fill="#c8c8c8"/><circle cx="123.1" cy="286.8" r="0.95" fill="#c8c8c8"/><circle cx="149.4" cy="284.2" r="1.13" fill="#c8c8c8"/><circle cx="130.2" cy="250.5" r="1.16" fill="#c8c8c8"/><circle cx="200.2" cy="246.8" r="1.13" fill="#c8c8c8"/><circle cx="162.6" cy="316.0" r="1.11" fill="#c8c8c8"/><circle cx="120.2" cy="244.9" r="0.86" fill="#c8c8c8"/><circle cx="131.6" cy="285.0" r="1.09" fill="#c8c8c8"/><circle cx="185.9" cy="284.0" r="0.88" fill="#c8c8c8"/><circle cx="116.5" cy="250.8" r="0.96" fill="#c8c8c8"/><circle cx="129.1" cy="321.8" r="0.93" fill="#c8c8c8"/>
<circle cx="135.0" cy="252.5" r="1.61" fill="#444"/><circle cx="159.4" cy="252.0" r="1.70" fill="#444"/><circle cx="179.0" cy="252.5" r="1.79" fill="#444"/><circle cx="191.7" cy="258.0" r="1.64" fill="#444"/><circle cx="172.0" cy="260.0" r="1.68" fill="#444"/><circle cx="149.0" cy="265.0" r="1.67" fill="#444"/><circle cx="126.6" cy="275.0" r="1.42" fill="#444"/><circle cx="172.8" cy="271.7" r="1.78" fill="#444"/><circle cx="190.0" cy="271.0" r="1.43" fill="#444"/><circle cx="148.0" cy="277.7" r="1.55" fill="#444"/><circle cx="189.0" cy="284.0" r="1.70" fill="#444"/><circle cx="137.8" cy="288.0" r="1.66" fill="#444"/><circle cx="175.5" cy="288.5" r="1.56" fill="#444"/><circle cx="160.0" cy="285.0" r="1.68" fill="#444"/><circle cx="192.6" cy="290.8" r="1.50" fill="#444"/><circle cx="122.5" cy="297.4" r="1.74" fill="#444"/><circle cx="158.5" cy="298.7" r="1.77" fill="#444"/><circle cx="190.8" cy="304.6" r="1.54" fill="#444"/><circle cx="111.7" cy="307.7" r="1.79" fill="#444"/><circle cx="142.3" cy="307.3" r="1.70" fill="#444"/><circle cx="175.5" cy="311.8" r="1.75" fill="#444"/><circle cx="182.4" cy="314.0" r="1.78" fill="#444"/><circle cx="160.0" cy="316.7" r="1.63" fill="#444"/><circle cx="128.0" cy="262.0" r="1.64" fill="#444"/><circle cx="110.0" cy="291.0" r="1.56" fill="#444"/>
<circle cx="343.4" cy="233.7" r="1.04" fill="#d6d6d6"/><circle cx="377.7" cy="261.1" r="0.89" fill="#d6d6d6"/><circle cx="329.9" cy="257.2" r="1.02" fill="#d6d6d6"/><circle cx="392.3" cy="253.4" r="0.97" fill="#d6d6d6"/><circle cx="401.4" cy="274.0" r="0.98" fill="#d6d6d6"/><circle cx="374.2" cy="248.1" r="0.88" fill="#d6d6d6"/><circle cx="337.9" cy="224.3" r="1.17" fill="#d6d6d6"/><circle cx="338.2" cy="239.5" r="1.19" fill="#d6d6d6"/><circle cx="366.0" cy="240.7" r="1.13" fill="#d6d6d6"/><circle cx="362.9" cy="269.0" r="0.87" fill="#d6d6d6"/><circle cx="317.0" cy="227.9" r="1.07" fill="#d6d6d6"/><circle cx="338.7" cy="253.4" r="1.19" fill="#d6d6d6"/><circle cx="358.5" cy="245.9" r="1.00" fill="#d6d6d6"/><circle cx="327.2" cy="222.7" r="0.80" fill="#d6d6d6"/><circle cx="344.8" cy="245.9" r="0.88" fill="#d6d6d6"/><circle cx="350.2" cy="235.9" r="0.90" fill="#d6d6d6"/><circle cx="370.4" cy="288.0" r="0.99" fill="#d6d6d6"/><circle cx="397.8" cy="285.4" r="0.99" fill="#d6d6d6"/><circle cx="385.7" cy="265.8" r="1.19" fill="#d6d6d6"/><circle cx="368.0" cy="224.5" r="0.91" fill="#d6d6d6"/><circle cx="369.3" cy="278.2" r="0.92" fill="#d6d6d6"/><circle cx="343.9" cy="265.4" r="0.87" fill="#d6d6d6"/><circle cx="356.4" cy="238.9" r="1.17" fill="#d6d6d6"/><circle cx="317.5" cy="237.8" r="1.20" fill="#d6d6d6"/><circle cx="349.7" cy="251.2" r="1.04" fill="#d6d6d6"/><circle cx="357.7" cy="225.1" r="1.02" fill="#d6d6d6"/><circle cx="384.0" cy="279.6" r="0.88" fill="#d6d6d6"/><circle cx="381.7" cy="255.9" r="0.83" fill="#d6d6d6"/><circle cx="377.2" cy="233.1" r="0.91" fill="#d6d6d6"/><circle cx="354.2" cy="272.6" r="1.01" fill="#d6d6d6"/><circle cx="354.5" cy="256.3" r="1.13" fill="#d6d6d6"/><circle cx="391.4" cy="261.3" r="1.00" fill="#d6d6d6"/><circle cx="362.7" cy="262.3" r="0.85" fill="#d6d6d6"/><circle cx="351.3" cy="279.7" r="1.03" fill="#d6d6d6"/><circle cx="379.4" cy="242.5" r="1.04" fill="#d6d6d6"/><circle cx="344.8" cy="213.1" r="0.98" fill="#d6d6d6"/><circle cx="396.4" cy="265.5" r="1.10" fill="#d6d6d6"/><circle cx="336.3" cy="264.8" r="1.08" fill="#d6d6d6"/><circle cx="339.4" cy="271.1" r="1.10" fill="#d6d6d6"/><circle cx="390.0" cy="282.9" r="0.84" fill="#d6d6d6"/><circle cx="372.0" cy="268.6" r="1.08" fill="#d6d6d6"/><circle cx="330.6" cy="268.5" r="0.82" fill="#d6d6d6"/><circle cx="363.2" cy="252.8" r="1.00" fill="#d6d6d6"/><circle cx="344.7" cy="255.9" r="0.94" fill="#d6d6d6"/><circle cx="315.5" cy="251.6" r="0.80" fill="#d6d6d6"/><circle cx="390.7" cy="271.0" r="0.89" fill="#d6d6d6"/><circle cx="355.2" cy="286.6" r="1.18" fill="#d6d6d6"/><circle cx="324.2" cy="242.0" r="1.10" fill="#d6d6d6"/><circle cx="324.1" cy="214.0" r="1.13" fill="#d6d6d6"/><circle cx="380.1" cy="272.1" r="1.16" fill="#d6d6d6"/><circle cx="358.5" cy="278.8" r="0.89" fill="#d6d6d6"/><circle cx="326.7" cy="231.4" r="0.88" fill="#d6d6d6"/><circle cx="369.0" cy="233.3" r="0.87" fill="#d6d6d6"/><circle cx="378.6" cy="225.9" r="1.08" fill="#d6d6d6"/><circle cx="375.4" cy="281.4" r="0.88" fill="#d6d6d6"/><circle cx="323.8" cy="273.3" r="1.05" fill="#d6d6d6"/><circle cx="390.3" cy="242.5" r="0.99" fill="#d6d6d6"/><circle cx="318.9" cy="264.8" r="1.15" fill="#d6d6d6"/><circle cx="350.7" cy="227.9" r="1.12" fill="#d6d6d6"/><circle cx="349.1" cy="261.0" r="1.08" fill="#d6d6d6"/><circle cx="375.3" cy="220.3" r="1.06" fill="#d6d6d6"/><circle cx="346.7" cy="222.7" r="0.98" fill="#d6d6d6"/><circle cx="363.9" cy="287.0" r="0.90" fill="#d6d6d6"/><circle cx="330.4" cy="246.5" r="0.90" fill="#d6d6d6"/><circle cx="333.4" cy="216.6" r="0.92" fill="#d6d6d6"/><circle cx="341.0" cy="282.3" r="1.18" fill="#d6d6d6"/><circle cx="371.8" cy="256.0" r="1.05" fill="#d6d6d6"/><circle cx="362.5" cy="232.7" r="0.96" fill="#d6d6d6"/><circle cx="322.0" cy="258.1" r="0.99" fill="#d6d6d6"/><circle cx="358.0" cy="214.4" r="0.93" fill="#d6d6d6"/><circle cx="372.9" cy="240.2" r="0.93" fill="#d6d6d6"/><circle cx="355.4" cy="264.6" r="1.15" fill="#d6d6d6"/><circle cx="308.6" cy="250.2" r="0.91" fill="#d6d6d6"/><circle cx="385.0" cy="232.9" r="0.80" fill="#d6d6d6"/><circle cx="385.7" cy="248.1" r="1.08" fill="#d6d6d6"/><circle cx="321.5" cy="248.8" r="0.86" fill="#d6d6d6"/><circle cx="332.7" cy="234.8" r="0.87" fill="#d6d6d6"/><circle cx="381.0" cy="287.2" r="0.93" fill="#d6d6d6"/><circle cx="316.6" cy="219.8" r="0.84" fill="#d6d6d6"/><circle cx="363.5" cy="219.4" r="0.81" fill="#d6d6d6"/><circle cx="335.8" cy="289.0" r="1.20" fill="#d6d6d6"/><circle cx="332.6" cy="276.7" r="1.01" fill="#d6d6d6"/><circle cx="350.6" cy="242.8" r="1.08" fill="#d6d6d6"/><circle cx="398.9" cy="258.5" r="0.86" fill="#d6d6d6"/><circle cx="395.4" cy="278.5" r="0.91" fill="#d6d6d6"/><circle cx="347.5" cy="288.1" r="1.17" fill="#d6d6d6"/><circle cx="407.0" cy="277.7" r="0.82" fill="#d6d6d6"/><circle cx="345.5" cy="275.7" r="0.81" fill="#d6d6d6"/><circle cx="353.3" cy="220.1" r="0.91" fill="#d6d6d6"/><circle cx="310.7" cy="241.2" r="1.15" fill="#d6d6d6"/>
<circle cx="347.8" cy="222.6" r="1.48" fill="#444"/><circle cx="362.2" cy="223.0" r="1.48" fill="#444"/><circle cx="367.6" cy="230.2" r="1.64" fill="#444"/><circle cx="329.3" cy="234.1" r="1.60" fill="#444"/><circle cx="343.7" cy="236.0" r="1.78" fill="#444"/><circle cx="357.5" cy="241.0" r="1.76" fill="#444"/><circle cx="371.9" cy="242.8" r="1.42" fill="#444"/><circle cx="382.3" cy="240.0" r="1.51" fill="#444"/><circle cx="333.4" cy="247.8" r="1.74" fill="#444"/><circle cx="344.6" cy="248.5" r="1.63" fill="#444"/><circle cx="388.6" cy="250.3" r="1.75" fill="#444"/><circle cx="366.2" cy="257.2" r="1.63" fill="#444"/><circle cx="352.7" cy="259.3" r="1.61" fill="#444"/><circle cx="342.8" cy="262.2" r="1.41" fill="#444"/><circle cx="376.6" cy="262.2" r="1.66" fill="#444"/><circle cx="386.8" cy="261.1" r="1.64" fill="#444"/><circle cx="352.7" cy="271.9" r="1.50" fill="#444"/><circle cx="367.0" cy="274.2" r="1.43" fill="#444"/><circle cx="383.2" cy="273.3" r="1.65" fill="#444"/><circle cx="406.0" cy="277.8" r="1.54" fill="#444"/>
<circle cx="491.7" cy="226.8" r="0.96" fill="#d6d6d6"/><circle cx="495.0" cy="199.7" r="0.84" fill="#d6d6d6"/><circle cx="466.1" cy="200.0" r="1.14" fill="#d6d6d6"/><circle cx="501.8" cy="230.8" r="0.92" fill="#d6d6d6"/><circle cx="462.5" cy="207.9" r="1.14" fill="#d6d6d6"/><circle cx="483.8" cy="192.7" r="0.94" fill="#d6d6d6"/><circle cx="494.0" cy="243.6" r="0.89" fill="#d6d6d6"/><circle cx="478.0" cy="230.8" r="0.86" fill="#d6d6d6"/><circle cx="495.0" cy="219.6" r="0.91" fill="#d6d6d6"/><circle cx="463.1" cy="217.3" r="1.03" fill="#d6d6d6"/><circle cx="481.5" cy="202.2" r="1.06" fill="#d6d6d6"/><circle cx="471.9" cy="205.6" r="1.15" fill="#d6d6d6"/><circle cx="487.6" cy="215.1" r="1.09" fill="#d6d6d6"/><circle cx="503.6" cy="216.1" r="0.89" fill="#d6d6d6"/><circle cx="477.3" cy="215.1" r="0.99" fill="#d6d6d6"/><circle cx="483.8" cy="248.0" r="1.04" fill="#d6d6d6"/><circle cx="459.1" cy="224.3" r="1.01" fill="#d6d6d6"/><circle cx="471.8" cy="219.7" r="1.03" fill="#d6d6d6"/><circle cx="491.6" cy="206.5" r="0.90" fill="#d6d6d6"/><circle cx="465.9" cy="241.5" r="1.13" fill="#d6d6d6"/><circle cx="461.7" cy="232.3" r="0.99" fill="#d6d6d6"/><circle cx="488.4" cy="196.6" r="0.86" fill="#d6d6d6"/><circle cx="473.1" cy="225.5" r="0.99" fill="#d6d6d6"/><circle cx="490.0" cy="235.3" r="0.98" fill="#d6d6d6"/><circle cx="477.7" cy="207.7" r="1.06" fill="#d6d6d6"/><circle cx="502.8" cy="224.4" r="1.15" fill="#d6d6d6"/><circle cx="484.1" cy="209.0" r="1.03" fill="#d6d6d6"/><circle cx="497.9" cy="213.3" r="1.15" fill="#d6d6d6"/><circle cx="471.5" cy="245.8" r="0.94" fill="#d6d6d6"/><circle cx="498.4" cy="207.3" r="0.84" fill="#d6d6d6"/><circle cx="496.2" cy="233.0" r="1.13" fill="#d6d6d6"/><circle cx="483.4" cy="223.2" r="0.88" fill="#d6d6d6"/><circle cx="469.4" cy="230.8" r="1.08" fill="#d6d6d6"/><circle cx="485.2" cy="240.8" r="0.83" fill="#d6d6d6"/><circle cx="478.2" cy="236.6" r="0.96" fill="#d6d6d6"/><circle cx="497.3" cy="226.7" r="0.90" fill="#d6d6d6"/><circle cx="475.7" cy="201.6" r="0.92" fill="#d6d6d6"/><circle cx="473.0" cy="191.6" r="1.13" fill="#d6d6d6"/><circle cx="500.1" cy="237.7" r="1.00" fill="#d6d6d6"/><circle cx="503.1" cy="210.2" r="0.85" fill="#d6d6d6"/><circle cx="469.5" cy="213.2" r="1.06" fill="#d6d6d6"/><circle cx="472.8" cy="237.9" r="1.19" fill="#d6d6d6"/><circle cx="476.7" cy="248.3" r="0.84" fill="#d6d6d6"/><circle cx="466.4" cy="226.1" r="0.89" fill="#d6d6d6"/><circle cx="479.2" cy="242.6" r="1.06" fill="#d6d6d6"/><circle cx="479.4" cy="189.2" r="0.92" fill="#d6d6d6"/><circle cx="486.8" cy="229.2" r="0.92" fill="#d6d6d6"/><circle cx="487.3" cy="202.9" r="0.88" fill="#d6d6d6"/><circle cx="478.3" cy="195.2" r="1.17" fill="#d6d6d6"/><circle cx="483.4" cy="234.8" r="0.93" fill="#d6d6d6"/>
<circle cx="462.5" cy="215.3" r="1.10" fill="#9a9a9a"/><circle cx="501.9" cy="211.9" r="1.18" fill="#9a9a9a"/><circle cx="459.4" cy="224.4" r="1.14" fill="#9a9a9a"/><circle cx="490.0" cy="224.4" r="1.02" fill="#9a9a9a"/><circle cx="461.9" cy="245.3" r="1.03" fill="#9a9a9a"/><circle cx="502.5" cy="199.8" r="1.01" fill="#9a9a9a"/><circle cx="499.4" cy="193.5" r="1.25" fill="#9a9a9a"/>
<circle cx="476.6" cy="191.0" r="1.64" fill="#444"/><circle cx="489.8" cy="191.0" r="1.53" fill="#444"/><circle cx="487.5" cy="201.0" r="1.60" fill="#444"/><circle cx="469.4" cy="201.3" r="1.41" fill="#444"/><circle cx="469.4" cy="205.3" r="1.62" fill="#444"/><circle cx="481.0" cy="213.5" r="1.63" fill="#444"/><circle cx="494.0" cy="212.8" r="1.73" fill="#444"/><circle cx="496.0" cy="220.6" r="1.47" fill="#444"/><circle cx="466.9" cy="222.8" r="1.42" fill="#444"/><circle cx="481.9" cy="222.8" r="1.60" fill="#444"/><circle cx="459.4" cy="230.6" r="1.74" fill="#444"/><circle cx="473.8" cy="231.9" r="1.62" fill="#444"/><circle cx="494.8" cy="232.3" r="1.66" fill="#444"/><circle cx="486.3" cy="238.1" r="1.55" fill="#444"/><circle cx="470.4" cy="246.0" r="1.54" fill="#444"/><circle cx="481.0" cy="248.5" r="1.47" fill="#444"/><circle cx="496.0" cy="244.4" r="1.61" fill="#444"/>
<circle cx="289.8" cy="454.3" r="1.05" fill="#cdcdcd"/><circle cx="297.6" cy="434.3" r="0.87" fill="#cdcdcd"/><circle cx="302.9" cy="449.7" r="0.85" fill="#cdcdcd"/><circle cx="283.7" cy="406.2" r="1.02" fill="#cdcdcd"/><circle cx="269.0" cy="462.1" r="1.09" fill="#cdcdcd"/><circle cx="263.8" cy="420.7" r="0.84" fill="#cdcdcd"/><circle cx="273.8" cy="409.7" r="1.06" fill="#cdcdcd"/><circle cx="319.6" cy="425.4" r="0.92" fill="#cdcdcd"/><circle cx="271.9" cy="437.0" r="1.07" fill="#cdcdcd"/><circle cx="306.8" cy="458.0" r="1.13" fill="#cdcdcd"/><circle cx="301.6" cy="470.6" r="1.07" fill="#cdcdcd"/><circle cx="293.0" cy="437.8" r="1.08" fill="#cdcdcd"/><circle cx="282.6" cy="397.7" r="0.85" fill="#cdcdcd"/><circle cx="252.9" cy="434.5" r="0.99" fill="#cdcdcd"/><circle cx="277.2" cy="396.0" r="1.18" fill="#cdcdcd"/><circle cx="295.0" cy="449.4" r="1.06" fill="#cdcdcd"/><circle cx="307.8" cy="467.4" r="1.19" fill="#cdcdcd"/><circle cx="309.8" cy="406.5" r="0.84" fill="#cdcdcd"/><circle cx="265.2" cy="444.4" r="1.15" fill="#cdcdcd"/><circle cx="266.2" cy="431.0" r="0.89" fill="#cdcdcd"/><circle cx="309.0" cy="433.3" r="0.88" fill="#cdcdcd"/><circle cx="268.4" cy="450.5" r="0.94" fill="#cdcdcd"/><circle cx="254.5" cy="442.2" r="0.90" fill="#cdcdcd"/><circle cx="263.7" cy="405.1" r="1.14" fill="#cdcdcd"/><circle cx="259.6" cy="451.9" r="0.86" fill="#cdcdcd"/><circle cx="286.8" cy="409.3" r="1.16" fill="#cdcdcd"/><circle cx="294.3" cy="406.5" r="1.18" fill="#cdcdcd"/><circle cx="284.1" cy="472.2" r="1.16" fill="#cdcdcd"/><circle cx="289.9" cy="421.0" r="1.04" fill="#cdcdcd"/><circle cx="256.0" cy="422.0" r="1.01" fill="#cdcdcd"/><circle cx="273.4" cy="431.9" r="0.89" fill="#cdcdcd"/><circle cx="299.6" cy="421.8" r="1.04" fill="#cdcdcd"/><circle cx="285.5" cy="464.6" r="0.96" fill="#cdcdcd"/><circle cx="287.5" cy="426.1" r="0.84" fill="#cdcdcd"/><circle cx="306.4" cy="429.1" r="0.87" fill="#cdcdcd"/><circle cx="294.0" cy="461.3" r="0.98" fill="#cdcdcd"/><circle cx="288.8" cy="436.9" r="0.99" fill="#cdcdcd"/><circle cx="290.4" cy="479.4" r="0.82" fill="#cdcdcd"/><circle cx="297.5" cy="394.0" r="0.81" fill="#cdcdcd"/><circle cx="285.3" cy="433.4" r="0.99" fill="#cdcdcd"/><circle cx="259.2" cy="464.6" r="0.93" fill="#cdcdcd"/><circle cx="286.8" cy="477.2" r="1.11" fill="#cdcdcd"/><circle cx="314.7" cy="444.9" r="0.84" fill="#cdcdcd"/><circle cx="306.3" cy="424.6" r="0.87" fill="#cdcdcd"/><circle cx="278.5" cy="461.5" r="1.04" fill="#cdcdcd"/><circle cx="261.1" cy="441.8" r="0.88" fill="#cdcdcd"/><circle cx="311.5" cy="412.4" r="1.03" fill="#cdcdcd"/><circle cx="287.5" cy="402.4" r="0.91" fill="#cdcdcd"/><circle cx="280.8" cy="430.7" r="1.09" fill="#cdcdcd"/><circle cx="278.5" cy="444.0" r="0.80" fill="#cdcdcd"/><circle cx="296.7" cy="398.9" r="1.02" fill="#cdcdcd"/><circle cx="261.8" cy="429.9" r="0.88" fill="#cdcdcd"/><circle cx="274.3" cy="418.7" r="0.86" fill="#cdcdcd"/><circle cx="269.3" cy="466.5" r="1.12" fill="#cdcdcd"/><circle cx="313.4" cy="435.3" r="1.05" fill="#cdcdcd"/><circle cx="268.2" cy="406.8" r="0.93" fill="#cdcdcd"/><circle cx="308.2" cy="439.7" r="0.81" fill="#cdcdcd"/><circle cx="262.5" cy="411.0" r="0.91" fill="#cdcdcd"/><circle cx="274.8" cy="453.0" r="1.17" fill="#cdcdcd"/><circle cx="283.5" cy="422.2" r="1.19" fill="#cdcdcd"/><circle cx="292.3" cy="415.7" r="0.96" fill="#cdcdcd"/><circle cx="307.9" cy="417.1" r="0.83" fill="#cdcdcd"/><circle cx="286.8" cy="448.3" r="0.82" fill="#cdcdcd"/><circle cx="302.5" cy="463.6" r="1.09" fill="#cdcdcd"/><circle cx="319.0" cy="434.9" r="1.00" fill="#cdcdcd"/><circle cx="283.7" cy="451.3" r="1.12" fill="#cdcdcd"/><circle cx="304.4" cy="409.3" r="0.81" fill="#cdcdcd"/><circle cx="267.9" cy="424.1" r="0.94" fill="#cdcdcd"/><circle cx="288.0" cy="483.0" r="0.85" fill="#cdcdcd"/><circle cx="276.8" cy="467.3" r="1.14" fill="#cdcdcd"/><circle cx="273.7" cy="403.6" r="0.87" fill="#cdcdcd"/><circle cx="258.8" cy="432.8" r="0.96" fill="#cdcdcd"/><circle cx="297.6" cy="428.7" r="1.10" fill="#cdcdcd"/><circle cx="281.4" cy="414.3" r="0.91" fill="#cdcdcd"/><circle cx="263.4" cy="467.5" r="0.95" fill="#cdcdcd"/><circle cx="263.6" cy="399.4" r="0.82" fill="#cdcdcd"/><circle cx="310.3" cy="451.9" r="0.92" fill="#cdcdcd"/><circle cx="291.6" cy="387.9" r="0.93" fill="#cdcdcd"/><circle cx="295.3" cy="475.5" r="0.83" fill="#cdcdcd"/><circle cx="297.3" cy="467.0" r="0.86" fill="#cdcdcd"/><circle cx="277.3" cy="438.5" r="1.14" fill="#cdcdcd"/><circle cx="268.9" cy="455.4" r="1.12" fill="#cdcdcd"/><circle cx="301.5" cy="440.2" r="1.02" fill="#cdcdcd"/><circle cx="289.8" cy="470.5" r="1.18" fill="#cdcdcd"/><circle cx="263.5" cy="449.5" r="1.15" fill="#cdcdcd"/><circle cx="270.6" cy="472.3" r="1.02" fill="#cdcdcd"/><circle cx="285.6" cy="414.7" r="1.12" fill="#cdcdcd"/><circle cx="268.6" cy="441.7" r="1.12" fill="#cdcdcd"/><circle cx="280.7" cy="456.9" r="0.98" fill="#cdcdcd"/><circle cx="316.9" cy="416.1" r="0.99" fill="#cdcdcd"/><circle cx="252.7" cy="447.8" r="0.96" fill="#cdcdcd"/><circle cx="299.2" cy="454.3" r="1.18" fill="#cdcdcd"/><circle cx="298.3" cy="417.3" r="0.84" fill="#cdcdcd"/><circle cx="313.1" cy="455.1" r="1.20" fill="#cdcdcd"/><circle cx="255.0" cy="417.1" r="0.85" fill="#cdcdcd"/><circle cx="300.0" cy="476.9" r="1.16" fill="#cdcdcd"/><circle cx="270.7" cy="393.7" r="0.95" fill="#cdcdcd"/><circle cx="298.3" cy="409.4" r="1.14" fill="#cdcdcd"/><circle cx="293.2" cy="394.7" r="1.17" fill="#cdcdcd"/><circle cx="297.7" cy="403.1" r="0.87" fill="#cdcdcd"/><circle cx="302.5" cy="415.7" r="0.91" fill="#cdcdcd"/><circle cx="277.1" cy="390.7" r="0.99" fill="#cdcdcd"/><circle cx="277.2" cy="473.6" r="1.19" fill="#cdcdcd"/><circle cx="262.6" cy="436.5" r="1.07" fill="#cdcdcd"/><circle cx="276.3" cy="414.5" r="0.89" fill="#cdcdcd"/><circle cx="272.0" cy="478.3" r="1.04" fill="#cdcdcd"/><circle cx="257.1" cy="437.0" r="1.16" fill="#cdcdcd"/><circle cx="295.1" cy="482.1" r="0.83" fill="#cdcdcd"/><circle cx="314.4" cy="420.4" r="1.12" fill="#cdcdcd"/><circle cx="260.1" cy="460.4" r="1.00" fill="#cdcdcd"/><circle cx="302.6" cy="433.9" r="0.90" fill="#cdcdcd"/><circle cx="254.0" cy="427.3" r="1.19" fill="#cdcdcd"/><circle cx="285.8" cy="393.3" r="1.01" fill="#cdcdcd"/><circle cx="317.6" cy="439.6" r="1.05" fill="#cdcdcd"/><circle cx="313.5" cy="461.0" r="0.82" fill="#cdcdcd"/><circle cx="289.8" cy="459.5" r="1.16" fill="#cdcdcd"/><circle cx="310.4" cy="398.8" r="0.96" fill="#cdcdcd"/><circle cx="261.4" cy="416.0" r="1.15" fill="#cdcdcd"/><circle cx="263.3" cy="425.0" r="0.86" fill="#cdcdcd"/><circle cx="279.5" cy="404.2" r="0.90" fill="#cdcdcd"/><circle cx="275.3" cy="447.0" r="1.11" fill="#cdcdcd"/><circle cx="278.7" cy="419.5" r="1.01" fill="#cdcdcd"/><circle cx="313.1" cy="427.6" r="0.89" fill="#cdcdcd"/><circle cx="266.4" cy="472.9" r="0.86" fill="#cdcdcd"/><circle cx="259.1" cy="408.2" r="1.14" fill="#cdcdcd"/><circle cx="287.7" cy="397.9" r="0.83" fill="#cdcdcd"/><circle cx="267.6" cy="436.1" r="0.90" fill="#cdcdcd"/><circle cx="291.3" cy="443.7" r="1.20" fill="#cdcdcd"/><circle cx="281.7" cy="387.8" r="1.10" fill="#cdcdcd"/><circle cx="290.5" cy="432.4" r="1.08" fill="#cdcdcd"/><circle cx="271.7" cy="415.3" r="0.94" fill="#cdcdcd"/><circle cx="264.2" cy="456.5" r="0.82" fill="#cdcdcd"/><circle cx="304.0" cy="475.0" r="0.89" fill="#cdcdcd"/><circle cx="274.7" cy="457.9" r="1.12" fill="#cdcdcd"/><circle cx="299.5" cy="445.6" r="0.90" fill="#cdcdcd"/><circle cx="304.9" cy="400.7" r="0.91" fill="#cdcdcd"/><circle cx="271.6" cy="427.0" r="1.02" fill="#cdcdcd"/><circle cx="312.6" cy="440.2" r="1.08" fill="#cdcdcd"/><circle cx="265.7" cy="414.3" r="0.80" fill="#cdcdcd"/><circle cx="281.7" cy="476.8" r="1.19" fill="#cdcdcd"/><circle cx="276.9" cy="482.8" r="1.01" fill="#cdcdcd"/><circle cx="258.6" cy="426.1" r="1.01" fill="#cdcdcd"/><circle cx="267.8" cy="418.4" r="1.04" fill="#cdcdcd"/><circle cx="308.7" cy="462.8" r="0.85" fill="#cdcdcd"/><circle cx="268.3" cy="400.0" r="0.81" fill="#cdcdcd"/><circle cx="302.7" cy="396.0" r="1.14" fill="#cdcdcd"/><circle cx="264.6" cy="462.8" r="1.02" fill="#cdcdcd"/><circle cx="279.6" cy="424.3" r="1.06" fill="#cdcdcd"/><circle cx="291.9" cy="399.1" r="0.96" fill="#cdcdcd"/><circle cx="291.2" cy="411.5" r="1.03" fill="#cdcdcd"/><circle cx="308.8" cy="471.9" r="1.01" fill="#cdcdcd"/><circle cx="282.1" cy="483.6" r="1.02" fill="#cdcdcd"/><circle cx="303.9" cy="454.1" r="0.87" fill="#cdcdcd"/><circle cx="319.2" cy="445.1" r="1.06" fill="#cdcdcd"/><circle cx="284.9" cy="457.9" r="1.03" fill="#cdcdcd"/><circle cx="302.2" cy="427.2" r="0.82" fill="#cdcdcd"/><circle cx="318.6" cy="451.3" r="0.82" fill="#cdcdcd"/><circle cx="296.6" cy="389.7" r="1.10" fill="#cdcdcd"/><circle cx="307.2" cy="446.1" r="1.01" fill="#cdcdcd"/><circle cx="273.6" cy="464.6" r="1.01" fill="#cdcdcd"/><circle cx="284.0" cy="438.9" r="1.20" fill="#cdcdcd"/><circle cx="293.6" cy="426.4" r="0.97" fill="#cdcdcd"/><circle cx="300.0" cy="459.3" r="1.13" fill="#cdcdcd"/><circle cx="295.4" cy="456.7" r="0.94" fill="#cdcdcd"/><circle cx="296.2" cy="413.3" r="1.07" fill="#cdcdcd"/><circle cx="255.6" cy="411.5" r="1.05" fill="#cdcdcd"/><circle cx="315.0" cy="407.2" r="0.94" fill="#cdcdcd"/><circle cx="307.2" cy="395.8" r="0.84" fill="#cdcdcd"/><circle cx="280.1" cy="435.2" r="0.93" fill="#cdcdcd"/><circle cx="256.5" cy="457.7" r="1.05" fill="#cdcdcd"/><circle cx="266.5" cy="394.2" r="0.82" fill="#cdcdcd"/><circle cx="278.4" cy="410.3" r="1.19" fill="#cdcdcd"/><circle cx="290.5" cy="464.7" r="1.10" fill="#cdcdcd"/><circle cx="274.1" cy="441.7" r="0.82" fill="#cdcdcd"/><circle cx="286.6" cy="389.0" r="0.94" fill="#cdcdcd"/><circle cx="278.2" cy="450.1" r="0.88" fill="#cdcdcd"/><circle cx="295.3" cy="420.5" r="0.85" fill="#cdcdcd"/><circle cx="273.1" cy="398.8" r="0.85" fill="#cdcdcd"/><circle cx="317.2" cy="456.7" r="1.08" fill="#cdcdcd"/><circle cx="310.2" cy="422.8" r="1.20" fill="#cdcdcd"/><circle cx="281.6" cy="466.3" r="0.96" fill="#cdcdcd"/><circle cx="296.1" cy="441.4" r="0.88" fill="#cdcdcd"/><circle cx="286.9" cy="442.8" r="0.98" fill="#cdcdcd"/><circle cx="283.1" cy="445.7" r="0.96" fill="#cdcdcd"/><circle cx="275.9" cy="426.8" r="0.84" fill="#cdcdcd"/><circle cx="255.2" cy="452.5" r="1.08" fill="#cdcdcd"/><circle cx="258.1" cy="446.4" r="1.18" fill="#cdcdcd"/><circle cx="312.5" cy="468.0" r="1.19" fill="#cdcdcd"/><circle cx="303.8" cy="391.6" r="1.04" fill="#cdcdcd"/><circle cx="320.9" cy="430.3" r="1.03" fill="#cdcdcd"/><circle cx="319.3" cy="420.0" r="1.02" fill="#cdcdcd"/><circle cx="272.2" cy="389.6" r="0.96" fill="#cdcdcd"/><circle cx="312.3" cy="403.0" r="0.95" fill="#cdcdcd"/><circle cx="269.3" cy="411.1" r="0.85" fill="#cdcdcd"/><circle cx="270.6" cy="446.6" r="1.07" fill="#cdcdcd"/><circle cx="303.2" cy="404.8" r="0.93" fill="#cdcdcd"/><circle cx="259.7" cy="403.4" r="0.81" fill="#cdcdcd"/><circle cx="304.4" cy="420.7" r="1.01" fill="#cdcdcd"/><circle cx="294.2" cy="471.1" r="1.12" fill="#cdcdcd"/><circle cx="316.3" cy="431.0" r="1.01" fill="#cdcdcd"/><circle cx="283.2" cy="426.7" r="0.96" fill="#cdcdcd"/><circle cx="316.9" cy="411.8" r="1.11" fill="#cdcdcd"/><circle cx="313.4" cy="449.0" r="0.85" fill="#cdcdcd"/><circle cx="312.5" cy="416.6" r="1.03" fill="#cdcdcd"/><circle cx="272.1" cy="422.8" r="1.11" fill="#cdcdcd"/><circle cx="290.6" cy="474.9" r="1.19" fill="#cdcdcd"/><circle cx="276.9" cy="478.4" r="1.15" fill="#cdcdcd"/><circle cx="288.2" cy="385.1" r="0.84" fill="#cdcdcd"/><circle cx="280.6" cy="393.2" r="1.12" fill="#cdcdcd"/><circle cx="306.8" cy="413.0" r="0.87" fill="#cdcdcd"/><circle cx="277.5" cy="400.3" r="0.99" fill="#cdcdcd"/><circle cx="251.7" cy="438.9" r="1.03" fill="#cdcdcd"/>
<circle cx="293.3" cy="393.0" r="1.57" fill="#444"/><circle cx="262.4" cy="407.6" r="1.44" fill="#444"/><circle cx="296.0" cy="402.5" r="1.62" fill="#444"/><circle cx="311.5" cy="412.7" r="1.43" fill="#444"/><circle cx="259.3" cy="419.8" r="1.60" fill="#444"/><circle cx="276.6" cy="417.4" r="1.64" fill="#444"/><circle cx="293.3" cy="422.4" r="1.50" fill="#444"/><circle cx="305.0" cy="428.0" r="1.78" fill="#444"/><circle cx="314.2" cy="433.0" r="1.55" fill="#444"/><circle cx="274.1" cy="433.0" r="1.51" fill="#444"/><circle cx="257.9" cy="436.7" r="1.75" fill="#444"/><circle cx="303.0" cy="438.7" r="1.55" fill="#444"/><circle cx="257.3" cy="444.2" r="1.69" fill="#444"/><circle cx="269.5" cy="445.2" r="1.68" fill="#444"/><circle cx="294.5" cy="446.8" r="1.76" fill="#444"/><circle cx="277.6" cy="451.3" r="1.65" fill="#444"/><circle cx="306.0" cy="455.0" r="1.70" fill="#444"/><circle cx="264.4" cy="458.0" r="1.67" fill="#444"/><circle cx="271.5" cy="470.6" r="1.72" fill="#444"/><circle cx="288.4" cy="473.7" r="1.73" fill="#444"/><circle cx="279.0" cy="402.5" r="1.48" fill="#444"/>
<circle cx="151.7" cy="487.8" r="0.82" fill="#d4d4d4"/><circle cx="167.5" cy="411.4" r="1.01" fill="#d4d4d4"/><circle cx="107.9" cy="364.4" r="0.70" fill="#d4d4d4"/><circle cx="164.5" cy="480.7" r="0.75" fill="#d4d4d4"/><circle cx="114.9" cy="360.4" r="0.77" fill="#d4d4d4"/><circle cx="170.5" cy="376.5" r="0.80" fill="#d4d4d4"/><circle cx="49.7" cy="398.9" r="1.03" fill="#d4d4d4"/><circle cx="195.7" cy="434.4" r="1.09" fill="#d4d4d4"/><circle cx="108.9" cy="461.2" r="0.84" fill="#d4d4d4"/><circle cx="129.9" cy="378.6" r="1.06" fill="#d4d4d4"/><circle cx="183.7" cy="471.0" r="0.76" fill="#d4d4d4"/><circle cx="167.1" cy="452.4" r="0.77" fill="#d4d4d4"/><circle cx="98.1" cy="370.5" r="0.87" fill="#d4d4d4"/><circle cx="113.7" cy="485.0" r="0.95" fill="#d4d4d4"/><circle cx="102.2" cy="362.9" r="0.99" fill="#d4d4d4"/><circle cx="41.4" cy="404.0" r="1.07" fill="#d4d4d4"/><circle cx="153.2" cy="493.2" r="0.80" fill="#d4d4d4"/><circle cx="87.8" cy="405.6" r="1.10" fill="#d4d4d4"/><circle cx="128.3" cy="482.0" r="0.75" fill="#d4d4d4"/><circle cx="158.8" cy="391.3" r="1.06" fill="#d4d4d4"/><circle cx="163.1" cy="455.7" r="0.73" fill="#d4d4d4"/><circle cx="183.1" cy="389.2" r="0.90" fill="#d4d4d4"/><circle cx="189.7" cy="423.6" r="0.94" fill="#d4d4d4"/><circle cx="98.8" cy="454.1" r="0.79" fill="#d4d4d4"/><circle cx="125.7" cy="355.9" r="0.89" fill="#d4d4d4"/><circle cx="191.8" cy="446.5" r="1.06" fill="#d4d4d4"/><circle cx="137.5" cy="468.7" r="0.77" fill="#d4d4d4"/><circle cx="121.2" cy="380.5" r="1.03" fill="#d4d4d4"/><circle cx="117.4" cy="385.1" r="0.76" fill="#d4d4d4"/><circle cx="100.7" cy="385.1" r="0.97" fill="#d4d4d4"/><circle cx="92.2" cy="380.6" r="0.83" fill="#d4d4d4"/><circle cx="137.2" cy="491.9" r="1.02" fill="#d4d4d4"/><circle cx="145.4" cy="490.4" r="0.73" fill="#d4d4d4"/><circle cx="131.9" cy="395.2" r="0.76" fill="#d4d4d4"/><circle cx="189.1" cy="433.8" r="0.77" fill="#d4d4d4"/><circle cx="165.8" cy="396.4" r="0.72" fill="#d4d4d4"/><circle cx="155.2" cy="427.2" r="0.87" fill="#d4d4d4"/><circle cx="72.6" cy="377.6" r="0.94" fill="#d4d4d4"/><circle cx="145.2" cy="477.3" r="1.08" fill="#d4d4d4"/><circle cx="133.8" cy="382.6" r="0.87" fill="#d4d4d4"/><circle cx="175.1" cy="423.7" r="1.02" fill="#d4d4d4"/><circle cx="177.1" cy="464.5" r="0.71" fill="#d4d4d4"/><circle cx="144.5" cy="391.2" r="0.80" fill="#d4d4d4"/><circle cx="181.7" cy="434.4" r="0.97" fill="#d4d4d4"/><circle cx="157.9" cy="486.6" r="1.00" fill="#d4d4d4"/><circle cx="147.6" cy="381.2" r="0.94" fill="#d4d4d4"/><circle cx="162.9" cy="464.5" r="0.78" fill="#d4d4d4"/><circle cx="107.8" cy="488.3" r="0.70" fill="#d4d4d4"/><circle cx="132.4" cy="387.4" r="1.06" fill="#d4d4d4"/><circle cx="173.1" cy="410.6" r="0.77" fill="#d4d4d4"/><circle cx="176.9" cy="413.7" r="0.97" fill="#d4d4d4"/><circle cx="104.8" cy="483.8" r="0.88" fill="#d4d4d4"/><circle cx="78.9" cy="387.1" r="1.01" fill="#d4d4d4"/><circle cx="144.1" cy="450.2" r="0.83" fill="#d4d4d4"/><circle cx="110.0" cy="376.8" r="1.03" fill="#d4d4d4"/><circle cx="170.8" cy="432.2" r="0.90" fill="#d4d4d4"/><circle cx="145.9" cy="460.9" r="0.70" fill="#d4d4d4"/><circle cx="95.5" cy="486.7" r="0.88" fill="#d4d4d4"/><circle cx="182.1" cy="426.7" r="1.06" fill="#d4d4d4"/><circle cx="107.1" cy="372.5" r="0.70" fill="#d4d4d4"/><circle cx="157.8" cy="406.7" r="0.80" fill="#d4d4d4"/><circle cx="112.1" cy="381.7" r="1.05" fill="#d4d4d4"/><circle cx="174.4" cy="482.4" r="0.72" fill="#d4d4d4"/><circle cx="123.6" cy="490.4" r="0.89" fill="#d4d4d4"/><circle cx="180.6" cy="459.8" r="1.01" fill="#d4d4d4"/><circle cx="157.9" cy="467.2" r="0.78" fill="#d4d4d4"/><circle cx="178.6" cy="384.5" r="0.77" fill="#d4d4d4"/><circle cx="161.8" cy="472.2" r="0.76" fill="#d4d4d4"/><circle cx="153.1" cy="450.3" r="0.73" fill="#d4d4d4"/><circle cx="129.9" cy="507.2" r="1.02" fill="#d4d4d4"/><circle cx="166.0" cy="489.3" r="1.07" fill="#d4d4d4"/><circle cx="93.9" cy="364.9" r="1.02" fill="#d4d4d4"/><circle cx="99.0" cy="378.5" r="0.90" fill="#d4d4d4"/><circle cx="161.1" cy="432.9" r="1.02" fill="#d4d4d4"/><circle cx="132.8" cy="480.0" r="1.06" fill="#d4d4d4"/><circle cx="75.6" cy="394.2" r="1.05" fill="#d4d4d4"/><circle cx="138.6" cy="504.4" r="0.78" fill="#d4d4d4"/><circle cx="86.7" cy="396.8" r="0.96" fill="#d4d4d4"/><circle cx="120.6" cy="480.1" r="0.74" fill="#d4d4d4"/><circle cx="114.3" cy="496.4" r="1.05" fill="#d4d4d4"/><circle cx="178.4" cy="406.7" r="0.89" fill="#d4d4d4"/><circle cx="159.3" cy="491.3" r="0.87" fill="#d4d4d4"/><circle cx="186.4" cy="396.5" r="0.86" fill="#d4d4d4"/><circle cx="169.8" cy="424.3" r="0.95" fill="#d4d4d4"/><circle cx="125.7" cy="392.0" r="0.79" fill="#d4d4d4"/><circle cx="151.8" cy="475.4" r="0.72" fill="#d4d4d4"/><circle cx="82.6" cy="360.4" r="0.97" fill="#d4d4d4"/><circle cx="124.9" cy="503.0" r="0.91" fill="#d4d4d4"/><circle cx="143.0" cy="470.4" r="1.04" fill="#d4d4d4"/><circle cx="131.1" cy="373.3" r="0.87" fill="#d4d4d4"/><circle cx="164.0" cy="387.2" r="1.01" fill="#d4d4d4"/><circle cx="171.1" cy="386.8" r="1.02" fill="#d4d4d4"/><circle cx="156.4" cy="446.2" r="0.88" fill="#d4d4d4"/><circle cx="120.1" cy="372.1" r="1.05" fill="#d4d4d4"/><circle cx="175.0" cy="397.7" r="0.83" fill="#d4d4d4"/><circle cx="152.3" cy="469.5" r="1.03" fill="#d4d4d4"/><circle cx="153.5" cy="386.6" r="0.99" fill="#d4d4d4"/><circle cx="186.9" cy="446.3" r="0.95" fill="#d4d4d4"/><circle cx="118.5" cy="365.8" r="0.83" fill="#d4d4d4"/><circle cx="87.9" cy="384.1" r="0.74" fill="#d4d4d4"/><circle cx="184.0" cy="466.1" r="0.87" fill="#d4d4d4"/><circle cx="157.6" cy="479.0" r="0.99" fill="#d4d4d4"/><circle cx="196.0" cy="441.6" r="0.99" fill="#d4d4d4"/><circle cx="128.8" cy="368.1" r="1.03" fill="#d4d4d4"/><circle cx="145.7" cy="407.2" r="0.74" fill="#d4d4d4"/><circle cx="98.3" cy="398.3" r="0.78" fill="#d4d4d4"/><circle cx="101.9" cy="498.9" r="0.77" fill="#d4d4d4"/><circle cx="171.1" cy="476.9" r="1.08" fill="#d4d4d4"/><circle cx="173.3" cy="402.3" r="0.95" fill="#d4d4d4"/><circle cx="181.3" cy="400.0" r="0.83" fill="#d4d4d4"/><circle cx="190.3" cy="457.0" r="0.74" fill="#d4d4d4"/><circle cx="92.3" cy="395.5" r="0.87" fill="#d4d4d4"/><circle cx="130.7" cy="359.3" r="0.95" fill="#d4d4d4"/><circle cx="143.7" cy="376.3" r="0.95" fill="#d4d4d4"/><circle cx="98.4" cy="466.4" r="0.76" fill="#d4d4d4"/><circle cx="177.9" cy="445.4" r="1.00" fill="#d4d4d4"/><circle cx="114.8" cy="391.8" r="0.77" fill="#d4d4d4"/><circle cx="140.0" cy="366.9" r="1.09" fill="#d4d4d4"/><circle cx="138.5" cy="361.6" r="0.96" fill="#d4d4d4"/><circle cx="134.9" cy="486.6" r="0.73" fill="#d4d4d4"/><circle cx="163.9" cy="426.4" r="0.96" fill="#d4d4d4"/><circle cx="139.0" cy="497.3" r="0.95" fill="#d4d4d4"/><circle cx="113.1" cy="490.3" r="1.09" fill="#d4d4d4"/><circle cx="161.0" cy="378.1" r="0.93" fill="#d4d4d4"/><circle cx="131.5" cy="454.7" r="1.05" fill="#d4d4d4"/><circle cx="166.7" cy="474.2" r="1.05" fill="#d4d4d4"/><circle cx="102.5" cy="355.8" r="0.91" fill="#d4d4d4"/><circle cx="105.2" cy="391.5" r="0.82" fill="#d4d4d4"/><circle cx="113.2" cy="366.8" r="1.03" fill="#d4d4d4"/><circle cx="140.6" cy="387.0" r="0.97" fill="#d4d4d4"/><circle cx="115.5" cy="476.1" r="0.76" fill="#d4d4d4"/><circle cx="135.0" cy="459.4" r="1.07" fill="#d4d4d4"/><circle cx="89.5" cy="374.9" r="0.72" fill="#d4d4d4"/><circle cx="132.0" cy="474.1" r="0.95" fill="#d4d4d4"/><circle cx="80.1" cy="368.4" r="1.05" fill="#d4d4d4"/><circle cx="167.4" cy="458.4" r="0.80" fill="#d4d4d4"/><circle cx="64.9" cy="381.4" r="0.92" fill="#d4d4d4"/><circle cx="122.8" cy="432.3" r="0.74" fill="#d4d4d4"/><circle cx="196.0" cy="424.0" r="1.04" fill="#d4d4d4"/><circle cx="142.6" cy="440.0" r="0.93" fill="#d4d4d4"/><circle cx="72.8" cy="366.1" r="1.09" fill="#d4d4d4"/><circle cx="152.2" cy="379.1" r="1.05" fill="#d4d4d4"/><circle cx="118.6" cy="354.6" r="0.80" fill="#d4d4d4"/><circle cx="98.0" cy="358.1" r="1.04" fill="#d4d4d4"/><circle cx="176.4" cy="390.6" r="0.76" fill="#d4d4d4"/><circle cx="184.1" cy="416.3" r="0.73" fill="#d4d4d4"/><circle cx="175.2" cy="455.0" r="0.83" fill="#d4d4d4"/><circle cx="110.4" cy="441.2" r="0.74" fill="#d4d4d4"/><circle cx="83.2" cy="372.1" r="1.06" fill="#d4d4d4"/><circle cx="175.9" cy="474.1" r="1.02" fill="#d4d4d4"/><circle cx="131.2" cy="496.8" r="0.85" fill="#d4d4d4"/><circle cx="137.2" cy="475.9" r="0.98" fill="#d4d4d4"/><circle cx="123.5" cy="361.2" r="1.09" fill="#d4d4d4"/><circle cx="145.2" cy="366.2" r="1.05" fill="#d4d4d4"/><circle cx="105.9" cy="381.3" r="0.72" fill="#d4d4d4"/><circle cx="187.7" cy="452.1" r="0.96" fill="#d4d4d4"/><circle cx="133.2" cy="443.0" r="0.81" fill="#d4d4d4"/><circle cx="117.8" cy="460.7" r="1.08" fill="#d4d4d4"/><circle cx="121.2" cy="403.5" r="0.79" fill="#d4d4d4"/><circle cx="144.8" cy="497.2" r="0.84" fill="#d4d4d4"/><circle cx="89.3" cy="390.2" r="0.94" fill="#d4d4d4"/><circle cx="126.1" cy="465.3" r="0.83" fill="#d4d4d4"/><circle cx="185.3" cy="404.0" r="0.88" fill="#d4d4d4"/><circle cx="177.3" cy="438.8" r="1.04" fill="#d4d4d4"/><circle cx="153.5" cy="482.9" r="0.75" fill="#d4d4d4"/><circle cx="148.6" cy="484.1" r="0.92" fill="#d4d4d4"/><circle cx="118.8" cy="505.3" r="0.97" fill="#d4d4d4"/><circle cx="194.0" cy="451.4" r="0.82" fill="#d4d4d4"/><circle cx="118.7" cy="472.4" r="0.94" fill="#d4d4d4"/><circle cx="100.8" cy="417.5" r="0.81" fill="#d4d4d4"/><circle cx="89.6" cy="360.9" r="0.89" fill="#d4d4d4"/><circle cx="171.7" cy="464.4" r="0.99" fill="#d4d4d4"/><circle cx="183.1" cy="455.7" r="0.98" fill="#d4d4d4"/><circle cx="177.5" cy="450.4" r="0.76" fill="#d4d4d4"/><circle cx="133.9" cy="367.6" r="0.93" fill="#d4d4d4"/><circle cx="130.5" cy="401.5" r="0.86" fill="#d4d4d4"/><circle cx="167.7" cy="438.8" r="0.79" fill="#d4d4d4"/><circle cx="157.4" cy="381.7" r="0.76" fill="#d4d4d4"/><circle cx="52.5" cy="405.2" r="0.77" fill="#d4d4d4"/><circle cx="139.9" cy="485.5" r="0.81" fill="#d4d4d4"/><circle cx="165.2" cy="403.8" r="1.09" fill="#d4d4d4"/><circle cx="190.7" cy="412.1" r="0.93" fill="#d4d4d4"/><circle cx="142.1" cy="396.2" r="0.84" fill="#d4d4d4"/><circle cx="140.7" cy="418.0" r="0.71" fill="#d4d4d4"/><circle cx="163.9" cy="447.0" r="0.84" fill="#d4d4d4"/><circle cx="104.9" cy="478.8" r="0.72" fill="#d4d4d4"/><circle cx="134.9" cy="376.4" r="0.80" fill="#d4d4d4"/><circle cx="155.9" cy="462.7" r="0.94" fill="#d4d4d4"/><circle cx="138.4" cy="463.9" r="0.91" fill="#d4d4d4"/><circle cx="152.4" cy="393.3" r="0.87" fill="#d4d4d4"/><circle cx="58.2" cy="381.7" r="0.87" fill="#d4d4d4"/><circle cx="119.0" cy="399.2" r="0.75" fill="#d4d4d4"/><circle cx="93.3" cy="369.9" r="0.92" fill="#d4d4d4"/><circle cx="140.9" cy="480.3" r="0.88" fill="#d4d4d4"/><circle cx="113.7" cy="505.2" r="0.81" fill="#d4d4d4"/><circle cx="126.2" cy="375.5" r="0.77" fill="#d4d4d4"/><circle cx="183.8" cy="441.5" r="0.81" fill="#d4d4d4"/><circle cx="57.4" cy="408.7" r="0.81" fill="#d4d4d4"/><circle cx="145.8" cy="434.4" r="1.00" fill="#d4d4d4"/><circle cx="128.7" cy="459.5" r="0.91" fill="#d4d4d4"/><circle cx="172.5" cy="419.1" r="0.85" fill="#d4d4d4"/><circle cx="151.2" cy="366.4" r="0.73" fill="#d4d4d4"/><circle cx="69.2" cy="392.3" r="1.09" fill="#d4d4d4"/><circle cx="173.4" cy="469.5" r="0.85" fill="#d4d4d4"/><circle cx="63.5" cy="370.1" r="1.00" fill="#d4d4d4"/><circle cx="125.4" cy="398.2" r="0.77" fill="#d4d4d4"/><circle cx="155.2" cy="417.0" r="0.72" fill="#d4d4d4"/><circle cx="151.4" cy="399.0" r="0.83" fill="#d4d4d4"/><circle cx="101.0" cy="402.5" r="0.89" fill="#d4d4d4"/><circle cx="110.3" cy="357.9" r="0.76" fill="#d4d4d4"/><circle cx="112.6" cy="415.4" r="1.03" fill="#d4d4d4"/><circle cx="68.7" cy="368.7" r="1.06" fill="#d4d4d4"/><circle cx="124.4" cy="475.5" r="0.97" fill="#d4d4d4"/><circle cx="138.2" cy="407.6" r="0.70" fill="#d4d4d4"/><circle cx="174.0" cy="459.8" r="0.96" fill="#d4d4d4"/><circle cx="104.8" cy="412.2" r="1.01" fill="#d4d4d4"/><circle cx="148.1" cy="360.8" r="1.07" fill="#d4d4d4"/><circle cx="72.1" cy="385.5" r="0.93" fill="#d4d4d4"/><circle cx="149.7" cy="454.0" r="0.97" fill="#d4d4d4"/><circle cx="56.5" cy="396.6" r="0.90" fill="#d4d4d4"/>
<circle cx="170.5" cy="474.5" r="0.87" fill="#c4c4c4"/><circle cx="155.1" cy="497.0" r="1.01" fill="#c4c4c4"/><circle cx="155.2" cy="473.3" r="0.78" fill="#c4c4c4"/><circle cx="137.1" cy="480.1" r="0.85" fill="#c4c4c4"/><circle cx="181.6" cy="473.9" r="0.71" fill="#c4c4c4"/><circle cx="143.5" cy="485.0" r="0.71" fill="#c4c4c4"/><circle cx="157.3" cy="491.8" r="1.04" fill="#c4c4c4"/><circle cx="129.0" cy="486.0" r="0.88" fill="#c4c4c4"/><circle cx="133.0" cy="482.6" r="0.80" fill="#c4c4c4"/><circle cx="138.0" cy="470.5" r="0.73" fill="#c4c4c4"/><circle cx="139.7" cy="483.4" r="0.76" fill="#c4c4c4"/><circle cx="120.2" cy="475.2" r="0.89" fill="#c4c4c4"/><circle cx="125.9" cy="505.6" r="0.72" fill="#c4c4c4"/><circle cx="159.5" cy="495.8" r="1.10" fill="#c4c4c4"/><circle cx="149.7" cy="483.2" r="0.87" fill="#c4c4c4"/><circle cx="165.7" cy="472.4" r="1.01" fill="#c4c4c4"/><circle cx="139.9" cy="475.2" r="1.02" fill="#c4c4c4"/><circle cx="171.2" cy="467.4" r="0.98" fill="#c4c4c4"/><circle cx="132.8" cy="471.7" r="0.88" fill="#c4c4c4"/><circle cx="145.4" cy="493.9" r="1.10" fill="#c4c4c4"/><circle cx="157.4" cy="480.5" r="0.72" fill="#c4c4c4"/><circle cx="145.2" cy="468.7" r="0.87" fill="#c4c4c4"/><circle cx="166.6" cy="467.3" r="0.95" fill="#c4c4c4"/><circle cx="130.2" cy="492.5" r="0.76" fill="#c4c4c4"/><circle cx="144.0" cy="476.4" r="0.92" fill="#c4c4c4"/><circle cx="153.1" cy="477.5" r="0.96" fill="#c4c4c4"/><circle cx="167.3" cy="491.3" r="1.04" fill="#c4c4c4"/><circle cx="140.7" cy="488.1" r="1.00" fill="#c4c4c4"/><circle cx="142.0" cy="497.2" r="0.95" fill="#c4c4c4"/><circle cx="124.2" cy="472.9" r="0.72" fill="#c4c4c4"/><circle cx="142.3" cy="505.5" r="0.94" fill="#c4c4c4"/><circle cx="135.0" cy="500.0" r="0.98" fill="#c4c4c4"/><circle cx="150.3" cy="489.5" r="0.86" fill="#c4c4c4"/><circle cx="138.7" cy="493.3" r="0.86" fill="#c4c4c4"/><circle cx="136.5" cy="486.2" r="1.09" fill="#c4c4c4"/><circle cx="172.8" cy="471.5" r="0.91" fill="#c4c4c4"/><circle cx="123.5" cy="493.2" r="0.85" fill="#c4c4c4"/><circle cx="154.6" cy="486.1" r="0.84" fill="#c4c4c4"/><circle cx="143.5" cy="502.1" r="0.95" fill="#c4c4c4"/><circle cx="121.2" cy="486.9" r="0.73" fill="#c4c4c4"/><circle cx="168.8" cy="479.3" r="1.04" fill="#c4c4c4"/><circle cx="156.4" cy="468.7" r="0.84" fill="#c4c4c4"/><circle cx="150.1" cy="494.1" r="0.79" fill="#c4c4c4"/><circle cx="152.9" cy="466.5" r="1.06" fill="#c4c4c4"/><circle cx="148.2" cy="465.1" r="0.71" fill="#c4c4c4"/><circle cx="183.1" cy="470.6" r="1.05" fill="#c4c4c4"/><circle cx="128.7" cy="499.1" r="0.83" fill="#c4c4c4"/><circle cx="121.5" cy="463.5" r="0.83" fill="#c4c4c4"/><circle cx="136.5" cy="504.9" r="1.05" fill="#c4c4c4"/><circle cx="161.8" cy="479.3" r="0.76" fill="#c4c4c4"/><circle cx="128.1" cy="471.7" r="0.98" fill="#c4c4c4"/><circle cx="161.9" cy="470.7" r="1.06" fill="#c4c4c4"/><circle cx="167.3" cy="486.0" r="1.08" fill="#c4c4c4"/><circle cx="131.1" cy="478.4" r="1.04" fill="#c4c4c4"/><circle cx="134.1" cy="490.5" r="1.02" fill="#c4c4c4"/><circle cx="142.1" cy="472.3" r="1.09" fill="#c4c4c4"/><circle cx="120.3" cy="502.5" r="0.75" fill="#c4c4c4"/><circle cx="178.9" cy="463.8" r="0.85" fill="#c4c4c4"/><circle cx="122.7" cy="469.3" r="0.87" fill="#c4c4c4"/><circle cx="164.8" cy="476.8" r="1.10" fill="#c4c4c4"/><circle cx="157.5" cy="476.4" r="0.73" fill="#c4c4c4"/><circle cx="136.0" cy="463.1" r="0.95" fill="#c4c4c4"/><circle cx="142.3" cy="480.7" r="0.90" fill="#c4c4c4"/><circle cx="165.3" cy="463.3" r="0.77" fill="#c4c4c4"/><circle cx="146.0" cy="482.1" r="0.71" fill="#c4c4c4"/><circle cx="131.0" cy="503.7" r="0.75" fill="#c4c4c4"/><circle cx="121.0" cy="510.2" r="0.88" fill="#c4c4c4"/><circle cx="160.8" cy="486.8" r="0.83" fill="#c4c4c4"/><circle cx="147.8" cy="478.1" r="0.79" fill="#c4c4c4"/><circle cx="148.4" cy="499.4" r="0.78" fill="#c4c4c4"/><circle cx="171.7" cy="484.3" r="1.03" fill="#c4c4c4"/><circle cx="124.2" cy="480.8" r="0.73" fill="#c4c4c4"/><circle cx="146.9" cy="474.1" r="0.81" fill="#c4c4c4"/><circle cx="161.2" cy="490.4" r="1.02" fill="#c4c4c4"/><circle cx="148.8" cy="470.4" r="1.05" fill="#c4c4c4"/><circle cx="131.7" cy="462.3" r="0.73" fill="#c4c4c4"/><circle cx="144.4" cy="463.0" r="0.86" fill="#c4c4c4"/><circle cx="171.3" cy="462.3" r="0.91" fill="#c4c4c4"/><circle cx="177.7" cy="480.8" r="0.97" fill="#c4c4c4"/><circle cx="121.5" cy="499.1" r="0.92" fill="#c4c4c4"/>
<circle cx="74.9" cy="389.4" r="1.22" fill="#9a9a9a"/><circle cx="90.9" cy="360.3" r="1.13" fill="#9a9a9a"/><circle cx="85.2" cy="393.5" r="1.05" fill="#9a9a9a"/><circle cx="108.0" cy="391.0" r="1.04" fill="#9a9a9a"/><circle cx="172.9" cy="450.3" r="1.12" fill="#9a9a9a"/><circle cx="192.5" cy="454.4" r="1.22" fill="#9a9a9a"/>
<circle cx="103.0" cy="361.4" r="1.66" fill="#444"/><circle cx="114.5" cy="364.9" r="1.45" fill="#444"/><circle cx="97.8" cy="374.7" r="1.52" fill="#444"/><circle cx="113.0" cy="382.0" r="1.50" fill="#444"/><circle cx="125.2" cy="381.6" r="1.61" fill="#444"/><circle cx="135.0" cy="372.4" r="1.79" fill="#444"/><circle cx="150.0" cy="369.5" r="1.44" fill="#444"/><circle cx="145.8" cy="379.7" r="1.67" fill="#444"/><circle cx="140.5" cy="386.2" r="1.67" fill="#444"/><circle cx="169.8" cy="383.9" r="1.78" fill="#444"/><circle cx="153.8" cy="399.2" r="1.45" fill="#444"/><circle cx="169.4" cy="401.5" r="1.80" fill="#444"/><circle cx="152.7" cy="406.0" r="1.44" fill="#444"/><circle cx="179.0" cy="400.8" r="1.52" fill="#444"/><circle cx="167.5" cy="416.4" r="1.40" fill="#444"/><circle cx="189.3" cy="414.0" r="1.45" fill="#444"/><circle cx="153.2" cy="406.6" r="1.48" fill="#444"/><circle cx="167.2" cy="416.9" r="1.67" fill="#444"/><circle cx="189.7" cy="414.6" r="1.44" fill="#444"/><circle cx="195.4" cy="439.4" r="1.58" fill="#444"/><circle cx="181.3" cy="445.0" r="1.57" fill="#444"/><circle cx="175.7" cy="456.3" r="1.40" fill="#444"/><circle cx="129.7" cy="478.8" r="1.77" fill="#444"/><circle cx="143.8" cy="479.7" r="1.69" fill="#444"/><circle cx="147.5" cy="467.9" r="1.61" fill="#444"/><circle cx="161.6" cy="473.2" r="1.65" fill="#444"/><circle cx="163.5" cy="485.4" r="1.60" fill="#444"/><circle cx="143.8" cy="491.9" r="1.46" fill="#444"/><circle cx="132.5" cy="500.4" r="1.64" fill="#444"/><circle cx="158.4" cy="498.5" r="1.71" fill="#444"/>
<circle cx="440.1" cy="486.5" r="0.79" fill="#d4d4d4"/><circle cx="412.5" cy="445.8" r="0.73" fill="#d4d4d4"/><circle cx="433.7" cy="471.9" r="0.86" fill="#d4d4d4"/><circle cx="410.1" cy="491.5" r="0.93" fill="#d4d4d4"/><circle cx="432.1" cy="507.5" r="0.74" fill="#d4d4d4"/><circle cx="416.5" cy="437.4" r="0.88" fill="#d4d4d4"/><circle cx="401.1" cy="487.0" r="0.79" fill="#d4d4d4"/><circle cx="397.1" cy="439.1" r="0.90" fill="#d4d4d4"/><circle cx="476.3" cy="386.9" r="0.76" fill="#d4d4d4"/><circle cx="399.6" cy="411.4" r="1.06" fill="#d4d4d4"/><circle cx="505.5" cy="369.7" r="1.01" fill="#d4d4d4"/><circle cx="396.7" cy="422.6" r="0.86" fill="#d4d4d4"/><circle cx="381.9" cy="448.5" r="1.07" fill="#d4d4d4"/><circle cx="400.0" cy="478.6" r="1.05" fill="#d4d4d4"/><circle cx="498.6" cy="382.9" r="1.03" fill="#d4d4d4"/><circle cx="407.3" cy="432.8" r="1.01" fill="#d4d4d4"/><circle cx="426.4" cy="475.3" r="0.86" fill="#d4d4d4"/><circle cx="427.3" cy="495.6" r="0.95" fill="#d4d4d4"/><circle cx="489.4" cy="377.3" r="0.86" fill="#d4d4d4"/><circle cx="389.1" cy="450.8" r="0.72" fill="#d4d4d4"/><circle cx="383.0" cy="460.2" r="0.87" fill="#d4d4d4"/><circle cx="380.5" cy="413.1" r="0.83" fill="#d4d4d4"/><circle cx="482.9" cy="390.1" r="0.95" fill="#d4d4d4"/><circle cx="419.2" cy="456.3" r="1.05" fill="#d4d4d4"/><circle cx="395.0" cy="460.6" r="1.05" fill="#d4d4d4"/><circle cx="387.7" cy="436.1" r="1.06" fill="#d4d4d4"/><circle cx="449.1" cy="506.0" r="0.92" fill="#d4d4d4"/><circle cx="481.0" cy="372.2" r="1.06" fill="#d4d4d4"/><circle cx="405.6" cy="459.3" r="0.78" fill="#d4d4d4"/><circle cx="478.3" cy="363.5" r="0.82" fill="#d4d4d4"/><circle cx="429.2" cy="485.4" r="0.92" fill="#d4d4d4"/><circle cx="402.8" cy="382.2" r="0.84" fill="#d4d4d4"/><circle cx="418.6" cy="386.0" r="0.78" fill="#d4d4d4"/><circle cx="419.6" cy="499.1" r="0.88" fill="#d4d4d4"/><circle cx="401.4" cy="432.7" r="0.96" fill="#d4d4d4"/><circle cx="409.9" cy="473.4" r="0.75" fill="#d4d4d4"/><circle cx="394.1" cy="405.7" r="0.82" fill="#d4d4d4"/><circle cx="405.5" cy="478.3" r="1.04" fill="#d4d4d4"/><circle cx="421.7" cy="408.7" r="1.08" fill="#d4d4d4"/><circle cx="412.6" cy="426.6" r="0.78" fill="#d4d4d4"/><circle cx="406.6" cy="441.0" r="0.99" fill="#d4d4d4"/><circle cx="431.0" cy="479.5" r="1.08" fill="#d4d4d4"/><circle cx="419.7" cy="468.6" r="0.91" fill="#d4d4d4"/><circle cx="442.3" cy="499.3" r="0.91" fill="#d4d4d4"/><circle cx="414.4" cy="397.4" r="0.79" fill="#d4d4d4"/><circle cx="499.3" cy="376.0" r="0.71" fill="#d4d4d4"/><circle cx="394.3" cy="390.1" r="1.10" fill="#d4d4d4"/><circle cx="402.3" cy="494.6" r="1.06" fill="#d4d4d4"/><circle cx="384.7" cy="420.0" r="0.74" fill="#d4d4d4"/><circle cx="426.1" cy="418.7" r="0.83" fill="#d4d4d4"/><circle cx="468.4" cy="365.0" r="0.88" fill="#d4d4d4"/><circle cx="391.5" cy="399.7" r="0.96" fill="#d4d4d4"/><circle cx="405.1" cy="464.1" r="1.02" fill="#d4d4d4"/><circle cx="491.0" cy="368.0" r="0.85" fill="#d4d4d4"/><circle cx="416.3" cy="417.7" r="0.97" fill="#d4d4d4"/><circle cx="432.8" cy="402.0" r="0.75" fill="#d4d4d4"/><circle cx="392.5" cy="412.8" r="0.85" fill="#d4d4d4"/><circle cx="401.6" cy="447.3" r="0.73" fill="#d4d4d4"/><circle cx="401.7" cy="467.6" r="0.95" fill="#d4d4d4"/><circle cx="401.9" cy="404.0" r="0.91" fill="#d4d4d4"/><circle cx="433.9" cy="497.4" r="0.70" fill="#d4d4d4"/><circle cx="417.2" cy="474.6" r="0.88" fill="#d4d4d4"/><circle cx="418.2" cy="492.4" r="0.83" fill="#d4d4d4"/><circle cx="395.1" cy="446.2" r="0.73" fill="#d4d4d4"/><circle cx="440.3" cy="494.6" r="0.78" fill="#d4d4d4"/><circle cx="450.4" cy="374.1" r="0.93" fill="#d4d4d4"/><circle cx="411.0" cy="451.1" r="1.01" fill="#d4d4d4"/><circle cx="392.0" cy="471.8" r="0.78" fill="#d4d4d4"/><circle cx="422.6" cy="395.2" r="0.96" fill="#d4d4d4"/><circle cx="421.5" cy="477.5" r="0.98" fill="#d4d4d4"/><circle cx="376.4" cy="447.8" r="0.86" fill="#d4d4d4"/><circle cx="402.2" cy="395.1" r="1.09" fill="#d4d4d4"/><circle cx="392.2" cy="430.3" r="1.10" fill="#d4d4d4"/><circle cx="383.4" cy="428.8" r="0.80" fill="#d4d4d4"/><circle cx="392.1" cy="484.7" r="0.76" fill="#d4d4d4"/><circle cx="380.7" cy="423.4" r="0.78" fill="#d4d4d4"/><circle cx="390.4" cy="455.9" r="0.85" fill="#d4d4d4"/><circle cx="398.6" cy="473.2" r="0.94" fill="#d4d4d4"/><circle cx="477.1" cy="358.6" r="1.00" fill="#d4d4d4"/><circle cx="410.8" cy="385.6" r="0.78" fill="#d4d4d4"/><circle cx="509.5" cy="385.2" r="0.90" fill="#d4d4d4"/><circle cx="379.9" cy="441.3" r="0.84" fill="#d4d4d4"/><circle cx="423.4" cy="483.1" r="1.00" fill="#d4d4d4"/><circle cx="376.7" cy="437.4" r="0.79" fill="#d4d4d4"/><circle cx="445.6" cy="439.2" r="1.09" fill="#d4d4d4"/><circle cx="409.2" cy="380.9" r="0.79" fill="#d4d4d4"/><circle cx="413.4" cy="403.9" r="0.95" fill="#d4d4d4"/><circle cx="411.0" cy="436.9" r="0.95" fill="#d4d4d4"/><circle cx="384.0" cy="409.6" r="0.71" fill="#d4d4d4"/><circle cx="420.3" cy="443.5" r="0.94" fill="#d4d4d4"/><circle cx="377.9" cy="453.1" r="1.03" fill="#d4d4d4"/><circle cx="408.4" cy="404.8" r="0.95" fill="#d4d4d4"/><circle cx="386.5" cy="473.8" r="0.87" fill="#d4d4d4"/><circle cx="409.0" cy="484.2" r="0.70" fill="#d4d4d4"/><circle cx="397.9" cy="453.5" r="0.90" fill="#d4d4d4"/><circle cx="485.4" cy="368.5" r="0.80" fill="#d4d4d4"/><circle cx="470.9" cy="377.4" r="1.05" fill="#d4d4d4"/><circle cx="409.8" cy="416.8" r="0.75" fill="#d4d4d4"/><circle cx="500.3" cy="363.8" r="1.00" fill="#d4d4d4"/><circle cx="390.5" cy="478.0" r="0.98" fill="#d4d4d4"/><circle cx="443.8" cy="444.2" r="0.91" fill="#d4d4d4"/><circle cx="412.3" cy="458.0" r="0.80" fill="#d4d4d4"/><circle cx="426.6" cy="449.8" r="0.82" fill="#d4d4d4"/><circle cx="374.4" cy="422.3" r="0.75" fill="#d4d4d4"/><circle cx="412.3" cy="391.2" r="0.72" fill="#d4d4d4"/><circle cx="429.7" cy="502.0" r="0.94" fill="#d4d4d4"/><circle cx="447.0" cy="480.9" r="0.76" fill="#d4d4d4"/><circle cx="395.9" cy="394.7" r="0.77" fill="#d4d4d4"/><circle cx="387.7" cy="446.2" r="0.86" fill="#d4d4d4"/><circle cx="461.7" cy="490.3" r="0.75" fill="#d4d4d4"/><circle cx="401.4" cy="418.6" r="0.96" fill="#d4d4d4"/><circle cx="479.9" cy="378.1" r="0.80" fill="#d4d4d4"/><circle cx="379.0" cy="418.7" r="0.87" fill="#d4d4d4"/><circle cx="449.1" cy="389.5" r="1.04" fill="#d4d4d4"/><circle cx="409.4" cy="410.3" r="1.04" fill="#d4d4d4"/><circle cx="388.3" cy="393.0" r="1.03" fill="#d4d4d4"/><circle cx="409.8" cy="399.4" r="1.00" fill="#d4d4d4"/><circle cx="451.2" cy="488.9" r="1.09" fill="#d4d4d4"/><circle cx="413.9" cy="479.3" r="0.94" fill="#d4d4d4"/><circle cx="388.3" cy="426.2" r="0.78" fill="#d4d4d4"/><circle cx="393.7" cy="418.4" r="1.02" fill="#d4d4d4"/><circle cx="417.9" cy="371.1" r="0.77" fill="#d4d4d4"/><circle cx="407.9" cy="423.6" r="0.87" fill="#d4d4d4"/><circle cx="402.0" cy="423.5" r="0.70" fill="#d4d4d4"/><circle cx="459.2" cy="486.1" r="0.99" fill="#d4d4d4"/><circle cx="384.4" cy="402.6" r="0.74" fill="#d4d4d4"/><circle cx="434.3" cy="464.8" r="0.86" fill="#d4d4d4"/><circle cx="449.8" cy="381.5" r="0.80" fill="#d4d4d4"/><circle cx="509.2" cy="377.6" r="1.03" fill="#d4d4d4"/><circle cx="513.2" cy="373.4" r="1.03" fill="#d4d4d4"/><circle cx="439.4" cy="389.9" r="0.95" fill="#d4d4d4"/><circle cx="451.8" cy="483.4" r="0.80" fill="#d4d4d4"/><circle cx="423.9" cy="427.9" r="0.78" fill="#d4d4d4"/><circle cx="492.7" cy="381.5" r="1.08" fill="#d4d4d4"/><circle cx="470.4" cy="371.1" r="0.71" fill="#d4d4d4"/><circle cx="442.3" cy="362.8" r="0.71" fill="#d4d4d4"/><circle cx="455.2" cy="467.7" r="1.09" fill="#d4d4d4"/><circle cx="403.1" cy="387.9" r="1.03" fill="#d4d4d4"/><circle cx="435.1" cy="489.7" r="0.89" fill="#d4d4d4"/><circle cx="413.2" cy="374.2" r="0.90" fill="#d4d4d4"/><circle cx="384.0" cy="467.0" r="0.98" fill="#d4d4d4"/><circle cx="408.5" cy="372.1" r="0.92" fill="#d4d4d4"/><circle cx="467.8" cy="382.1" r="1.07" fill="#d4d4d4"/><circle cx="423.8" cy="504.5" r="0.90" fill="#d4d4d4"/><circle cx="414.9" cy="484.2" r="0.83" fill="#d4d4d4"/><circle cx="446.0" cy="474.6" r="0.88" fill="#d4d4d4"/><circle cx="455.9" cy="375.3" r="1.05" fill="#d4d4d4"/><circle cx="410.2" cy="497.5" r="1.03" fill="#d4d4d4"/><circle cx="510.2" cy="394.7" r="0.73" fill="#d4d4d4"/><circle cx="425.9" cy="468.4" r="0.77" fill="#d4d4d4"/><circle cx="415.9" cy="407.9" r="0.84" fill="#d4d4d4"/><circle cx="424.4" cy="364.8" r="0.89" fill="#d4d4d4"/><circle cx="436.2" cy="364.8" r="0.86" fill="#d4d4d4"/><circle cx="423.8" cy="376.2" r="1.01" fill="#d4d4d4"/><circle cx="425.3" cy="442.4" r="0.81" fill="#d4d4d4"/><circle cx="455.4" cy="504.4" r="0.90" fill="#d4d4d4"/><circle cx="392.8" cy="465.1" r="0.71" fill="#d4d4d4"/><circle cx="415.4" cy="504.1" r="0.88" fill="#d4d4d4"/><circle cx="434.5" cy="452.7" r="0.89" fill="#d4d4d4"/><circle cx="433.8" cy="445.6" r="1.07" fill="#d4d4d4"/><circle cx="396.5" cy="428.1" r="0.74" fill="#d4d4d4"/><circle cx="414.7" cy="467.4" r="1.00" fill="#d4d4d4"/><circle cx="417.5" cy="391.1" r="0.80" fill="#d4d4d4"/><circle cx="418.3" cy="432.8" r="0.84" fill="#d4d4d4"/><circle cx="444.4" cy="503.9" r="1.01" fill="#d4d4d4"/><circle cx="443.9" cy="381.4" r="0.94" fill="#d4d4d4"/><circle cx="378.5" cy="432.3" r="0.85" fill="#d4d4d4"/><circle cx="441.4" cy="418.1" r="0.79" fill="#d4d4d4"/><circle cx="488.3" cy="361.2" r="0.95" fill="#d4d4d4"/><circle cx="394.5" cy="384.1" r="0.72" fill="#d4d4d4"/><circle cx="423.2" cy="433.0" r="0.94" fill="#d4d4d4"/><circle cx="437.4" cy="407.5" r="1.09" fill="#d4d4d4"/><circle cx="405.8" cy="470.5" r="0.82" fill="#d4d4d4"/><circle cx="441.2" cy="450.6" r="0.81" fill="#d4d4d4"/><circle cx="460.9" cy="373.8" r="1.07" fill="#d4d4d4"/><circle cx="432.5" cy="393.8" r="1.05" fill="#d4d4d4"/><circle cx="442.0" cy="464.1" r="0.74" fill="#d4d4d4"/><circle cx="411.7" cy="463.4" r="0.98" fill="#d4d4d4"/><circle cx="425.2" cy="488.2" r="1.07" fill="#d4d4d4"/><circle cx="387.7" cy="416.2" r="1.05" fill="#d4d4d4"/><circle cx="514.7" cy="382.2" r="0.94" fill="#d4d4d4"/><circle cx="454.4" cy="369.9" r="0.86" fill="#d4d4d4"/><circle cx="431.8" cy="407.1" r="0.82" fill="#d4d4d4"/><circle cx="417.1" cy="462.7" r="0.77" fill="#d4d4d4"/><circle cx="399.9" cy="460.7" r="0.97" fill="#d4d4d4"/><circle cx="433.1" cy="416.9" r="0.72" fill="#d4d4d4"/><circle cx="445.7" cy="495.0" r="0.70" fill="#d4d4d4"/><circle cx="435.7" cy="484.4" r="0.98" fill="#d4d4d4"/><circle cx="388.9" cy="409.3" r="1.07" fill="#d4d4d4"/><circle cx="431.9" cy="431.2" r="0.82" fill="#d4d4d4"/><circle cx="465.3" cy="387.7" r="0.94" fill="#d4d4d4"/><circle cx="437.5" cy="500.6" r="0.85" fill="#d4d4d4"/><circle cx="428.2" cy="411.4" r="0.87" fill="#d4d4d4"/><circle cx="404.5" cy="454.0" r="0.77" fill="#d4d4d4"/><circle cx="425.4" cy="401.7" r="0.89" fill="#d4d4d4"/><circle cx="449.4" cy="368.3" r="0.74" fill="#d4d4d4"/><circle cx="392.5" cy="436.9" r="0.77" fill="#d4d4d4"/><circle cx="429.4" cy="461.1" r="0.86" fill="#d4d4d4"/><circle cx="455.7" cy="386.9" r="0.91" fill="#d4d4d4"/><circle cx="499.9" cy="371.0" r="0.93" fill="#d4d4d4"/>
<circle cx="404.5" cy="480.8" r="0.89" fill="#c4c4c4"/><circle cx="419.9" cy="496.4" r="0.76" fill="#c4c4c4"/><circle cx="423.3" cy="494.0" r="0.86" fill="#c4c4c4"/><circle cx="439.4" cy="478.0" r="0.89" fill="#c4c4c4"/><circle cx="436.2" cy="497.8" r="1.07" fill="#c4c4c4"/><circle cx="435.3" cy="483.9" r="1.05" fill="#c4c4c4"/><circle cx="396.3" cy="481.7" r="0.83" fill="#c4c4c4"/><circle cx="398.6" cy="485.8" r="0.71" fill="#c4c4c4"/><circle cx="403.8" cy="495.1" r="0.71" fill="#c4c4c4"/><circle cx="407.2" cy="490.0" r="0.82" fill="#c4c4c4"/><circle cx="425.4" cy="497.2" r="1.04" fill="#c4c4c4"/><circle cx="414.8" cy="491.7" r="1.00" fill="#c4c4c4"/><circle cx="429.1" cy="496.8" r="1.01" fill="#c4c4c4"/><circle cx="406.9" cy="497.3" r="0.74" fill="#c4c4c4"/><circle cx="416.5" cy="484.6" r="1.06" fill="#c4c4c4"/><circle cx="426.5" cy="507.5" r="0.77" fill="#c4c4c4"/><circle cx="423.1" cy="483.0" r="1.00" fill="#c4c4c4"/><circle cx="412.3" cy="499.5" r="0.91" fill="#c4c4c4"/><circle cx="418.7" cy="503.4" r="0.70" fill="#c4c4c4"/><circle cx="428.0" cy="483.9" r="1.10" fill="#c4c4c4"/><circle cx="440.3" cy="481.6" r="1.03" fill="#c4c4c4"/><circle cx="411.3" cy="486.1" r="0.71" fill="#c4c4c4"/><circle cx="427.8" cy="492.9" r="0.76" fill="#c4c4c4"/><circle cx="420.2" cy="487.5" r="1.10" fill="#c4c4c4"/><circle cx="414.6" cy="495.5" r="0.97" fill="#c4c4c4"/><circle cx="430.1" cy="487.5" r="1.04" fill="#c4c4c4"/><circle cx="398.5" cy="490.5" r="0.90" fill="#c4c4c4"/><circle cx="440.5" cy="492.9" r="0.83" fill="#c4c4c4"/><circle cx="418.1" cy="478.8" r="0.82" fill="#c4c4c4"/><circle cx="429.3" cy="501.9" r="0.90" fill="#c4c4c4"/><circle cx="424.0" cy="489.9" r="0.78" fill="#c4c4c4"/><circle cx="404.5" cy="487.7" r="0.95" fill="#c4c4c4"/><circle cx="408.6" cy="478.7" r="0.85" fill="#c4c4c4"/><circle cx="435.9" cy="493.3" r="0.77" fill="#c4c4c4"/><circle cx="444.7" cy="476.4" r="0.85" fill="#c4c4c4"/><circle cx="414.3" cy="481.8" r="1.10" fill="#c4c4c4"/><circle cx="414.9" cy="475.9" r="1.03" fill="#c4c4c4"/><circle cx="421.1" cy="476.3" r="0.74" fill="#c4c4c4"/><circle cx="403.0" cy="491.5" r="0.90" fill="#c4c4c4"/><circle cx="433.6" cy="477.6" r="0.72" fill="#c4c4c4"/><circle cx="396.2" cy="475.4" r="0.91" fill="#c4c4c4"/><circle cx="438.4" cy="502.1" r="0.85" fill="#c4c4c4"/><circle cx="411.2" cy="492.6" r="0.84" fill="#c4c4c4"/><circle cx="432.0" cy="509.4" r="1.00" fill="#c4c4c4"/><circle cx="432.4" cy="490.9" r="1.04" fill="#c4c4c4"/><circle cx="429.8" cy="477.2" r="1.03" fill="#c4c4c4"/><circle cx="441.9" cy="497.5" r="0.99" fill="#c4c4c4"/><circle cx="422.2" cy="500.4" r="0.93" fill="#c4c4c4"/><circle cx="444.4" cy="493.0" r="0.81" fill="#c4c4c4"/><circle cx="423.9" cy="504.3" r="0.81" fill="#c4c4c4"/><circle cx="436.4" cy="488.8" r="0.93" fill="#c4c4c4"/><circle cx="425.5" cy="476.7" r="0.98" fill="#c4c4c4"/><circle cx="417.7" cy="499.7" r="0.84" fill="#c4c4c4"/><circle cx="443.3" cy="486.3" r="0.97" fill="#c4c4c4"/><circle cx="432.4" cy="494.7" r="0.98" fill="#c4c4c4"/><circle cx="399.8" cy="474.3" r="0.88" fill="#c4c4c4"/><circle cx="404.7" cy="476.2" r="0.99" fill="#c4c4c4"/><circle cx="409.3" cy="483.1" r="1.01" fill="#c4c4c4"/><circle cx="444.8" cy="512.2" r="0.70" fill="#c4c4c4"/><circle cx="400.3" cy="478.0" r="0.79" fill="#c4c4c4"/><circle cx="414.5" cy="502.9" r="0.72" fill="#c4c4c4"/><circle cx="416.7" cy="488.6" r="0.76" fill="#c4c4c4"/><circle cx="434.9" cy="504.9" r="0.98" fill="#c4c4c4"/><circle cx="443.9" cy="502.5" r="1.04" fill="#c4c4c4"/><circle cx="440.1" cy="505.4" r="0.90" fill="#c4c4c4"/><circle cx="433.6" cy="500.4" r="0.70" fill="#c4c4c4"/><circle cx="395.4" cy="487.7" r="0.87" fill="#c4c4c4"/><circle cx="419.4" cy="491.2" r="0.93" fill="#c4c4c4"/><circle cx="437.5" cy="510.1" r="0.84" fill="#c4c4c4"/><circle cx="440.5" cy="488.8" r="1.02" fill="#c4c4c4"/>
<circle cx="421.3" cy="371.4" r="1.08" fill="#9a9a9a"/><circle cx="423.8" cy="382.3" r="1.12" fill="#9a9a9a"/><circle cx="399.5" cy="400.6" r="1.20" fill="#9a9a9a"/><circle cx="400.7" cy="462.0" r="1.15" fill="#9a9a9a"/><circle cx="394.7" cy="460.5" r="1.17" fill="#9a9a9a"/><circle cx="483.4" cy="364.6" r="1.09" fill="#9a9a9a"/><circle cx="508.4" cy="380.3" r="1.05" fill="#9a9a9a"/>
<circle cx="409.7" cy="373.9" r="1.52" fill="#444"/><circle cx="441.0" cy="369.0" r="1.53" fill="#444"/><circle cx="399.9" cy="388.0" r="1.61" fill="#444"/><circle cx="413.5" cy="397.1" r="1.79" fill="#444"/><circle cx="389.6" cy="410.2" r="1.79" fill="#444"/><circle cx="409.7" cy="410.8" r="1.64" fill="#444"/><circle cx="381.2" cy="416.4" r="1.69" fill="#444"/><circle cx="392.4" cy="427.1" r="1.79" fill="#444"/><circle cx="406.9" cy="426.7" r="1.49" fill="#444"/><circle cx="418.4" cy="430.4" r="1.47" fill="#444"/><circle cx="378.8" cy="434.7" r="1.73" fill="#444"/><circle cx="409.7" cy="438.9" r="1.55" fill="#444"/><circle cx="409.6" cy="440.1" r="1.79" fill="#444"/><circle cx="388.0" cy="447.8" r="1.64" fill="#444"/><circle cx="405.1" cy="450.1" r="1.74" fill="#444"/><circle cx="417.7" cy="452.6" r="1.44" fill="#444"/><circle cx="387.3" cy="466.8" r="1.77" fill="#444"/><circle cx="404.8" cy="478.3" r="1.40" fill="#444"/><circle cx="412.3" cy="484.2" r="1.66" fill="#444"/><circle cx="428.2" cy="483.8" r="1.74" fill="#444"/><circle cx="402.1" cy="490.9" r="1.63" fill="#444"/><circle cx="420.3" cy="493.6" r="1.58" fill="#444"/><circle cx="432.6" cy="495.4" r="1.41" fill="#444"/><circle cx="420.3" cy="502.0" r="1.62" fill="#444"/><circle cx="454.0" cy="361.5" r="1.80" fill="#444"/><circle cx="475.3" cy="363.4" r="1.67" fill="#444"/><circle cx="494.7" cy="366.8" r="1.48" fill="#444"/><circle cx="486.3" cy="371.9" r="1.44" fill="#444"/><circle cx="476.0" cy="374.4" r="1.56" fill="#444"/><circle cx="494.7" cy="375.1" r="1.72" fill="#444"/><circle cx="487.8" cy="382.5" r="1.50" fill="#444"/><circle cx="446.2" cy="378.8" r="1.68" fill="#444"/><circle cx="441.2" cy="368.8" r="1.69" fill="#444"/>
<circle cx="159.5" cy="504.8" r="0.78" fill="#c4c4c4"/><circle cx="166.2" cy="510.5" r="0.65" fill="#c4c4c4"/><circle cx="171.7" cy="521.4" r="0.76" fill="#c4c4c4"/><circle cx="173.6" cy="527.6" r="0.96" fill="#c4c4c4"/><circle cx="200.2" cy="549.4" r="0.98" fill="#c4c4c4"/><circle cx="208.8" cy="553.2" r="0.94" fill="#c4c4c4"/><circle cx="214.5" cy="559.6" r="0.83" fill="#c4c4c4"/><circle cx="247.7" cy="567.8" r="0.69" fill="#c4c4c4"/><circle cx="259.3" cy="573.1" r="0.72" fill="#c4c4c4"/><circle cx="270.8" cy="571.4" r="0.74" fill="#c4c4c4"/><circle cx="288.7" cy="574.0" r="0.69" fill="#c4c4c4"/><circle cx="295.1" cy="571.3" r="0.75" fill="#c4c4c4"/><circle cx="305.6" cy="571.1" r="0.76" fill="#c4c4c4"/><circle cx="313.2" cy="568.8" r="0.73" fill="#c4c4c4"/><circle cx="346.4" cy="557.5" r="0.82" fill="#c4c4c4"/><circle cx="357.0" cy="551.1" r="0.75" fill="#c4c4c4"/><circle cx="368.9" cy="540.7" r="0.60" fill="#c4c4c4"/><circle cx="375.3" cy="537.5" r="0.92" fill="#c4c4c4"/><circle cx="383.3" cy="523.0" r="0.60" fill="#c4c4c4"/><circle cx="394.9" cy="501.7" r="0.73" fill="#c4c4c4"/><circle cx="243.4" cy="570.0" r="0.86" fill="#c4c4c4"/><circle cx="169.8" cy="516.2" r="0.62" fill="#c4c4c4"/><circle cx="229.3" cy="564.4" r="0.73" fill="#c4c4c4"/><circle cx="167.8" cy="522.3" r="0.64" fill="#c4c4c4"/><circle cx="371.3" cy="536.8" r="0.76" fill="#c4c4c4"/><circle cx="337.6" cy="557.8" r="0.90" fill="#c4c4c4"/><circle cx="329.4" cy="563.9" r="0.67" fill="#c4c4c4"/><circle cx="365.6" cy="544.2" r="0.96" fill="#c4c4c4"/><circle cx="386.6" cy="519.0" r="0.99" fill="#c4c4c4"/><circle cx="328.5" cy="562.4" r="0.77" fill="#c4c4c4"/><circle cx="263.9" cy="571.0" r="0.71" fill="#c4c4c4"/><circle cx="302.0" cy="569.7" r="0.72" fill="#c4c4c4"/><circle cx="393.1" cy="510.4" r="0.91" fill="#c4c4c4"/><circle cx="354.4" cy="552.7" r="0.92" fill="#c4c4c4"/><circle cx="385.0" cy="523.3" r="0.72" fill="#c4c4c4"/><circle cx="277.5" cy="569.0" r="0.78" fill="#c4c4c4"/><circle cx="189.9" cy="541.7" r="0.75" fill="#c4c4c4"/><circle cx="334.6" cy="564.1" r="0.65" fill="#c4c4c4"/><circle cx="392.1" cy="512.5" r="0.87" fill="#c4c4c4"/><circle cx="372.8" cy="536.9" r="0.94" fill="#c4c4c4"/><circle cx="384.8" cy="527.4" r="0.73" fill="#c4c4c4"/><circle cx="364.2" cy="544.7" r="0.83" fill="#c4c4c4"/><circle cx="178.5" cy="528.5" r="0.64" fill="#c4c4c4"/><circle cx="216.9" cy="555.9" r="0.75" fill="#c4c4c4"/><circle cx="262.7" cy="572.5" r="0.75" fill="#c4c4c4"/><circle cx="281.0" cy="573.8" r="0.96" fill="#c4c4c4"/><circle cx="229.5" cy="567.1" r="0.96" fill="#c4c4c4"/><circle cx="288.6" cy="574.3" r="0.71" fill="#c4c4c4"/><circle cx="394.0" cy="503.7" r="0.96" fill="#c4c4c4"/><circle cx="378.0" cy="534.5" r="0.63" fill="#c4c4c4"/><circle cx="400.2" cy="495.5" r="0.66" fill="#c4c4c4"/><circle cx="359.9" cy="545.0" r="0.81" fill="#c4c4c4"/><circle cx="178.1" cy="529.8" r="0.92" fill="#c4c4c4"/><circle cx="254.6" cy="572.6" r="0.88" fill="#c4c4c4"/><circle cx="181.0" cy="531.3" r="0.91" fill="#c4c4c4"/><circle cx="350.6" cy="552.3" r="0.84" fill="#c4c4c4"/><circle cx="185.7" cy="539.4" r="0.70" fill="#c4c4c4"/><circle cx="399.2" cy="501.8" r="0.62" fill="#c4c4c4"/><circle cx="259.9" cy="569.0" r="0.99" fill="#c4c4c4"/><circle cx="289.7" cy="572.0" r="0.94" fill="#c4c4c4"/><circle cx="389.6" cy="513.6" r="0.77" fill="#c4c4c4"/><circle cx="213.2" cy="554.8" r="0.70" fill="#c4c4c4"/><circle cx="213.0" cy="559.0" r="0.94" fill="#c4c4c4"/><circle cx="377.3" cy="529.3" r="0.62" fill="#c4c4c4"/><circle cx="260.8" cy="568.7" r="0.87" fill="#c4c4c4"/><circle cx="216.6" cy="559.2" r="0.92" fill="#c4c4c4"/><circle cx="194.5" cy="546.8" r="0.79" fill="#c4c4c4"/><circle cx="211.3" cy="557.5" r="0.74" fill="#c4c4c4"/><circle cx="195.9" cy="544.1" r="0.84" fill="#c4c4c4"/><circle cx="349.0" cy="555.6" r="0.66" fill="#c4c4c4"/><circle cx="383.2" cy="529.0" r="0.77" fill="#c4c4c4"/><circle cx="271.6" cy="568.5" r="0.98" fill="#c4c4c4"/><circle cx="235.0" cy="566.6" r="0.76" fill="#c4c4c4"/><circle cx="368.8" cy="538.3" r="0.94" fill="#c4c4c4"/><circle cx="226.6" cy="560.1" r="0.97" fill="#c4c4c4"/><circle cx="251.0" cy="567.4" r="0.85" fill="#c4c4c4"/><circle cx="221.9" cy="559.2" r="0.68" fill="#c4c4c4"/><circle cx="244.0" cy="566.9" r="0.70" fill="#c4c4c4"/><circle cx="170.3" cy="519.6" r="0.85" fill="#c4c4c4"/><circle cx="319.9" cy="566.8" r="0.62" fill="#c4c4c4"/><circle cx="345.5" cy="556.5" r="0.90" fill="#c4c4c4"/><circle cx="398.4" cy="504.0" r="0.69" fill="#c4c4c4"/><circle cx="392.6" cy="513.3" r="0.71" fill="#c4c4c4"/><circle cx="302.5" cy="572.0" r="0.80" fill="#c4c4c4"/><circle cx="383.8" cy="520.9" r="0.93" fill="#c4c4c4"/><circle cx="387.7" cy="522.4" r="0.90" fill="#c4c4c4"/><circle cx="230.1" cy="562.9" r="0.88" fill="#c4c4c4"/><circle cx="394.4" cy="503.2" r="0.71" fill="#c4c4c4"/><circle cx="337.0" cy="558.5" r="0.75" fill="#c4c4c4"/><circle cx="380.5" cy="528.0" r="0.64" fill="#c4c4c4"/><circle cx="327.3" cy="566.7" r="0.81" fill="#c4c4c4"/><circle cx="240.8" cy="566.7" r="0.63" fill="#c4c4c4"/><circle cx="180.2" cy="536.2" r="0.64" fill="#c4c4c4"/><circle cx="193.8" cy="548.7" r="0.84" fill="#c4c4c4"/><circle cx="231.9" cy="562.8" r="0.98" fill="#c4c4c4"/><circle cx="329.9" cy="561.3" r="0.93" fill="#c4c4c4"/><circle cx="335.6" cy="559.8" r="0.63" fill="#c4c4c4"/><circle cx="336.1" cy="557.4" r="0.88" fill="#c4c4c4"/><circle cx="354.4" cy="549.3" r="0.90" fill="#c4c4c4"/><circle cx="304.9" cy="570.6" r="0.91" fill="#c4c4c4"/><circle cx="290.3" cy="568.6" r="0.73" fill="#c4c4c4"/><circle cx="163.0" cy="503.7" r="1.00" fill="#c4c4c4"/><circle cx="385.0" cy="527.8" r="0.86" fill="#c4c4c4"/><circle cx="255.3" cy="573.0" r="0.98" fill="#c4c4c4"/><circle cx="323.6" cy="568.0" r="0.68" fill="#c4c4c4"/><circle cx="245.2" cy="567.9" r="0.72" fill="#c4c4c4"/><circle cx="170.4" cy="526.1" r="0.96" fill="#c4c4c4"/><circle cx="164.0" cy="509.2" r="0.65" fill="#c4c4c4"/><circle cx="278.8" cy="569.8" r="0.67" fill="#c4c4c4"/><circle cx="267.8" cy="573.9" r="0.85" fill="#c4c4c4"/><circle cx="354.7" cy="547.5" r="0.99" fill="#c4c4c4"/><circle cx="346.8" cy="555.5" r="0.66" fill="#c4c4c4"/><circle cx="292.7" cy="572.6" r="0.94" fill="#c4c4c4"/><circle cx="202.1" cy="554.4" r="0.99" fill="#c4c4c4"/><circle cx="326.3" cy="561.8" r="0.65" fill="#c4c4c4"/><circle cx="184.3" cy="538.6" r="0.70" fill="#c4c4c4"/><circle cx="204.4" cy="550.3" r="0.89" fill="#c4c4c4"/><circle cx="160.7" cy="508.5" r="0.69" fill="#c4c4c4"/><circle cx="301.5" cy="567.1" r="0.88" fill="#c4c4c4"/><circle cx="395.2" cy="505.3" r="0.84" fill="#c4c4c4"/><circle cx="394.7" cy="502.5" r="0.87" fill="#c4c4c4"/><circle cx="257.1" cy="572.5" r="0.80" fill="#c4c4c4"/><circle cx="393.2" cy="515.4" r="0.77" fill="#c4c4c4"/><circle cx="168.7" cy="522.6" r="0.97" fill="#c4c4c4"/><circle cx="220.5" cy="557.2" r="0.69" fill="#c4c4c4"/><circle cx="214.9" cy="557.7" r="0.82" fill="#c4c4c4"/><circle cx="330.9" cy="565.2" r="0.77" fill="#c4c4c4"/><circle cx="160.8" cy="509.3" r="0.88" fill="#c4c4c4"/><circle cx="349.5" cy="554.3" r="0.88" fill="#c4c4c4"/><circle cx="197.6" cy="546.7" r="0.88" fill="#c4c4c4"/>
<circle cx="166.9" cy="516.4" r="1.45" fill="#505050"/><circle cx="180.2" cy="533.1" r="1.29" fill="#505050"/><circle cx="184.9" cy="538.1" r="1.36" fill="#505050"/><circle cx="189.4" cy="541.1" r="1.11" fill="#505050"/><circle cx="196.6" cy="545.6" r="1.21" fill="#505050"/><circle cx="220.7" cy="562.5" r="1.15" fill="#505050"/><circle cx="227.0" cy="563.9" r="1.42" fill="#505050"/><circle cx="232.1" cy="565.6" r="1.29" fill="#505050"/><circle cx="241.5" cy="565.1" r="1.20" fill="#505050"/><circle cx="253.9" cy="570.2" r="1.24" fill="#505050"/><circle cx="265.8" cy="569.9" r="1.21" fill="#505050"/><circle cx="276.0" cy="572.0" r="1.36" fill="#505050"/><circle cx="281.6" cy="571.2" r="1.41" fill="#505050"/><circle cx="300.7" cy="568.2" r="1.27" fill="#505050"/><circle cx="318.4" cy="565.2" r="1.40" fill="#505050"/><circle cx="325.6" cy="563.1" r="1.37" fill="#505050"/><circle cx="334.2" cy="559.7" r="1.11" fill="#505050"/><circle cx="339.2" cy="558.7" r="1.38" fill="#505050"/><circle cx="351.6" cy="553.4" r="1.32" fill="#505050"/><circle cx="362.5" cy="546.5" r="1.34" fill="#505050"/><circle cx="379.8" cy="529.9" r="1.37" fill="#505050"/><circle cx="388.4" cy="518.1" r="1.39" fill="#505050"/><circle cx="393.4" cy="512.0" r="1.41" fill="#505050"/><circle cx="398.2" cy="495.5" r="1.35" fill="#505050"/>
<circle cx="591.6" cy="242" r="1.2" fill="#888"/><circle cx="582.8" cy="355.3" r="1.1" fill="#999"/>
<text transform="translate(137.39,86.55) scale(1.044,1)" font-size="18.02" font-weight="bold" fill="#2b2b2b" stroke="#2b2b2b" stroke-width="2.01" stroke-linejoin="round">Б</text><text transform="translate(154.28,86.55) scale(1.137,1)" font-size="18.02" font-weight="bold" fill="#2b2b2b" stroke="#2b2b2b" stroke-width="1.85" stroke-linejoin="round">Р</text><text transform="translate(170.76,86.55) scale(1.564,1)" font-size="18.02" font-weight="bold" fill="#2b2b2b" stroke="#2b2b2b" stroke-width="1.34" stroke-linejoin="round">Ю</text><text transform="translate(202.69,86.55) scale(1.127,1)" font-size="18.02" font-weight="bold" fill="#2b2b2b" stroke="#2b2b2b" stroke-width="1.86" stroke-linejoin="round">Ш</text><text transform="translate(225.79,86.55) scale(1.463,1)" font-size="18.02" font-weight="bold" fill="#2b2b2b" stroke="#2b2b2b" stroke-width="1.44" stroke-linejoin="round">Н</text><text transform="translate(245.27,86.55) scale(1.522,1)" font-size="18.02" font-weight="bold" fill="#2b2b2b" stroke="#2b2b2b" stroke-width="1.38" stroke-linejoin="round">А</text><text transform="translate(267.59,86.55) scale(1.171,1)" font-size="18.02" font-weight="bold" fill="#2b2b2b" stroke="#2b2b2b" stroke-width="1.79" stroke-linejoin="round">Я</text>
<text transform="translate(124.17,105.75) scale(1.297,1)" font-size="17.01" font-weight="bold" fill="#2b2b2b" stroke="#2b2b2b" stroke-width="1.62" stroke-linejoin="round">П</text><text transform="translate(144.26,105.75) scale(1.422,1)" font-size="17.01" font-weight="bold" fill="#2b2b2b" stroke="#2b2b2b" stroke-width="1.48" stroke-linejoin="round">О</text><text transform="translate(165.27,105.75) scale(1.575,1)" font-size="17.01" font-weight="bold" fill="#2b2b2b" stroke="#2b2b2b" stroke-width="1.33" stroke-linejoin="round">Λ</text><text transform="translate(186.51,105.75) scale(1.346,1)" font-size="17.01" font-weight="bold" fill="#2b2b2b" stroke="#2b2b2b" stroke-width="1.56" stroke-linejoin="round">О</text><text transform="translate(207.99,105.75) scale(1.376,1)" font-size="17.01" font-weight="bold" fill="#2b2b2b" stroke="#2b2b2b" stroke-width="1.53" stroke-linejoin="round">С</text><text transform="translate(229.54,105.75) scale(1.383,1)" font-size="17.01" font-weight="bold" fill="#2b2b2b" stroke="#2b2b2b" stroke-width="1.52" stroke-linejoin="round">Т</text><text transform="translate(249.22,105.75) scale(1.260,1)" font-size="17.01" font-weight="bold" fill="#2b2b2b" stroke="#2b2b2b" stroke-width="1.67" stroke-linejoin="round">Ь</text>
<text transform="translate(413.63,73.70) scale(1.299,1)" font-size="18.17" font-weight="bold" fill="#2b2b2b" stroke="#2b2b2b" stroke-width="1.54" stroke-linejoin="round">Т</text><text transform="translate(429.75,73.70) scale(1.768,1)" font-size="18.17" font-weight="bold" fill="#2b2b2b" stroke="#2b2b2b" stroke-width="1.13" stroke-linejoin="round">К</text><text transform="translate(451.27,73.70) scale(1.608,1)" font-size="18.17" font-weight="bold" fill="#2b2b2b" stroke="#2b2b2b" stroke-width="1.24" stroke-linejoin="round">А</text><text transform="translate(473.80,73.70) scale(1.236,1)" font-size="18.17" font-weight="bold" fill="#2b2b2b" stroke="#2b2b2b" stroke-width="1.62" stroke-linejoin="round">Н</text><text transform="translate(493.24,73.70) scale(1.118,1)" font-size="18.17" font-weight="bold" fill="#2b2b2b" stroke="#2b2b2b" stroke-width="1.79" stroke-linejoin="round">Е</text><text transform="translate(509.49,73.70) scale(1.245,1)" font-size="18.17" font-weight="bold" fill="#2b2b2b" stroke="#2b2b2b" stroke-width="1.61" stroke-linejoin="round">В</text><text transform="translate(530.57,73.70) scale(1.341,1)" font-size="18.17" font-weight="bold" fill="#2b2b2b" stroke="#2b2b2b" stroke-width="1.49" stroke-linejoin="round">Ы</text><text transform="translate(559.44,73.70) scale(1.040,1)" font-size="18.17" font-weight="bold" fill="#2b2b2b" stroke="#2b2b2b" stroke-width="1.92" stroke-linejoin="round">Е</text>
<text transform="translate(444.55,92.90) scale(1.204,1)" font-size="16.72" font-weight="bold" fill="#2b2b2b" stroke="#2b2b2b" stroke-width="1.66" stroke-linejoin="round">Б</text><text transform="translate(465.18,92.90) scale(1.269,1)" font-size="16.72" font-weight="bold" fill="#2b2b2b" stroke="#2b2b2b" stroke-width="1.58" stroke-linejoin="round">Е</text><text transform="translate(483.94,92.90) scale(1.438,1)" font-size="16.72" font-weight="bold" fill="#2b2b2b" stroke="#2b2b2b" stroke-width="1.39" stroke-linejoin="round">Λ</text><text transform="translate(505.52,92.90) scale(1.504,1)" font-size="16.72" font-weight="bold" fill="#2b2b2b" stroke="#2b2b2b" stroke-width="1.33" stroke-linejoin="round">К</text><text transform="translate(526.20,92.90) scale(1.441,1)" font-size="16.72" font-weight="bold" fill="#2b2b2b" stroke="#2b2b2b" stroke-width="1.39" stroke-linejoin="round">И</text>
<text transform="translate(201.67,304.15) scale(1.146,1)" font-size="17.44" font-weight="bold" fill="#2b2b2b" stroke="#2b2b2b" stroke-width="1.75" stroke-linejoin="round">И</text><text transform="translate(218.27,304.29) scale(1.141,1)" font-size="17.44" font-weight="bold" fill="#2b2b2b" stroke="#2b2b2b" stroke-width="1.75" stroke-linejoin="round">Н</text><text transform="translate(235.40,304.41) scale(1.032,1)" font-size="17.44" font-weight="bold" fill="#2b2b2b" stroke="#2b2b2b" stroke-width="1.94" stroke-linejoin="round">Т</text><text transform="translate(248.64,304.53) scale(1.083,1)" font-size="17.44" font-weight="bold" fill="#2b2b2b" stroke="#2b2b2b" stroke-width="1.85" stroke-linejoin="round">Е</text><text transform="translate(261.68,304.63) scale(1.135,1)" font-size="17.44" font-weight="bold" fill="#2b2b2b" stroke="#2b2b2b" stroke-width="1.76" stroke-linejoin="round">Р</text><text transform="translate(277.45,304.74) scale(0.623,1)" font-size="17.44" font-weight="bold" fill="#2b2b2b" stroke="#2b2b2b" stroke-width="3.21" stroke-linejoin="round">С</text><text transform="translate(287.98,304.84) scale(1.139,1)" font-size="17.44" font-weight="bold" fill="#2b2b2b" stroke="#2b2b2b" stroke-width="1.76" stroke-linejoin="round">Т</text><text transform="translate(302.40,304.96) scale(1.038,1)" font-size="17.44" font-weight="bold" fill="#2b2b2b" stroke="#2b2b2b" stroke-width="1.93" stroke-linejoin="round">И</text><text transform="translate(316.94,305.08) scale(1.083,1)" font-size="17.44" font-weight="bold" fill="#2b2b2b" stroke="#2b2b2b" stroke-width="1.85" stroke-linejoin="round">Ц</text><text transform="translate(335.16,305.22) scale(1.156,1)" font-size="17.44" font-weight="bold" fill="#2b2b2b" stroke="#2b2b2b" stroke-width="1.73" stroke-linejoin="round">И</text><text transform="translate(351.57,305.37) scale(1.453,1)" font-size="17.44" font-weight="bold" fill="#2b2b2b" stroke="#2b2b2b" stroke-width="1.38" stroke-linejoin="round">А</text><text transform="translate(373.93,305.54) scale(1.439,1)" font-size="17.44" font-weight="bold" fill="#2b2b2b" stroke="#2b2b2b" stroke-width="1.39" stroke-linejoin="round">Λ</text><text transform="translate(394.98,305.71) scale(1.303,1)" font-size="17.44" font-weight="bold" fill="#2b2b2b" stroke="#2b2b2b" stroke-width="1.54" stroke-linejoin="round">Ь</text><text transform="translate(414.71,305.85) scale(1.024,1)" font-size="17.44" font-weight="bold" fill="#2b2b2b" stroke="#2b2b2b" stroke-width="1.95" stroke-linejoin="round">Н</text><text transform="translate(433.58,306.02) scale(1.427,1)" font-size="17.44" font-weight="bold" fill="#2b2b2b" stroke="#2b2b2b" stroke-width="1.40" stroke-linejoin="round">А</text><text transform="translate(455.44,306.18) scale(1.192,1)" font-size="17.44" font-weight="bold" fill="#2b2b2b" stroke="#2b2b2b" stroke-width="1.68" stroke-linejoin="round">Я</text>
<text transform="translate(202.96,322.63) scale(1.123,1)" font-size="17.88" font-weight="bold" fill="#2b2b2b" stroke="#2b2b2b" stroke-width="1.78" stroke-linejoin="round">Ж</text><text transform="translate(225.10,322.88) scale(1.175,1)" font-size="17.88" font-weight="bold" fill="#2b2b2b" stroke="#2b2b2b" stroke-width="1.70" stroke-linejoin="round">И</text><text transform="translate(240.90,323.12) scale(1.659,1)" font-size="17.88" font-weight="bold" fill="#2b2b2b" stroke="#2b2b2b" stroke-width="1.21" stroke-linejoin="round">Δ</text><text transform="translate(264.24,323.38) scale(1.386,1)" font-size="17.88" font-weight="bold" fill="#2b2b2b" stroke="#2b2b2b" stroke-width="1.44" stroke-linejoin="round">К</text><text transform="translate(282.81,323.64) scale(1.481,1)" font-size="17.88" font-weight="bold" fill="#2b2b2b" stroke="#2b2b2b" stroke-width="1.35" stroke-linejoin="round">О</text><text transform="translate(306.26,323.87) scale(0.736,1)" font-size="17.88" font-weight="bold" fill="#2b2b2b" stroke="#2b2b2b" stroke-width="2.72" stroke-linejoin="round">С</text><text transform="translate(320.33,324.07) scale(1.368,1)" font-size="17.88" font-weight="bold" fill="#2b2b2b" stroke="#2b2b2b" stroke-width="1.46" stroke-linejoin="round">Т</text><text transform="translate(338.02,324.30) scale(1.153,1)" font-size="17.88" font-weight="bold" fill="#2b2b2b" stroke="#2b2b2b" stroke-width="1.73" stroke-linejoin="round">Ь</text>
<text transform="translate(234.37,378.23) scale(1.193,1)" font-size="19.19" font-weight="bold" fill="#2b2b2b" stroke="#2b2b2b" stroke-width="1.68" stroke-linejoin="round">Б</text><text transform="translate(253.99,378.31) scale(1.180,1)" font-size="19.19" font-weight="bold" fill="#2b2b2b" stroke="#2b2b2b" stroke-width="1.70" stroke-linejoin="round">Е</text><text transform="translate(272.93,378.39) scale(1.332,1)" font-size="19.19" font-weight="bold" fill="#2b2b2b" stroke="#2b2b2b" stroke-width="1.50" stroke-linejoin="round">Λ</text><text transform="translate(293.83,378.47) scale(1.454,1)" font-size="19.19" font-weight="bold" fill="#2b2b2b" stroke="#2b2b2b" stroke-width="1.38" stroke-linejoin="round">К</text><text transform="translate(316.64,378.56) scale(1.300,1)" font-size="19.19" font-weight="bold" fill="#2b2b2b" stroke="#2b2b2b" stroke-width="1.54" stroke-linejoin="round">И</text>
<text transform="translate(41.97,445.50) scale(1.391,1)" font-size="18.60" font-weight="bold" fill="#2b2b2b" stroke="#2b2b2b" stroke-width="1.87" stroke-linejoin="round">К</text><text transform="translate(63.81,445.50) scale(1.197,1)" font-size="18.60" font-weight="bold" fill="#2b2b2b" stroke="#2b2b2b" stroke-width="2.17" stroke-linejoin="round">Р</text><text transform="translate(84.39,445.50) scale(1.323,1)" font-size="18.60" font-weight="bold" fill="#2b2b2b" stroke="#2b2b2b" stroke-width="1.97" stroke-linejoin="round">О</text><text transform="translate(108.56,445.50) scale(1.155,1)" font-size="18.60" font-weight="bold" fill="#2b2b2b" stroke="#2b2b2b" stroke-width="2.25" stroke-linejoin="round">В</text><text transform="translate(128.23,445.50) scale(1.099,1)" font-size="18.60" font-weight="bold" fill="#2b2b2b" stroke="#2b2b2b" stroke-width="2.37" stroke-linejoin="round">Ь</text>
<text transform="translate(442.83,445.80) scale(1.299,1)" font-size="19.33" font-weight="bold" fill="#2b2b2b" stroke="#2b2b2b" stroke-width="1.69" stroke-linejoin="round">Λ</text><text transform="translate(463.63,445.80) scale(1.149,1)" font-size="19.33" font-weight="bold" fill="#2b2b2b" stroke="#2b2b2b" stroke-width="1.92" stroke-linejoin="round">И</text><text transform="translate(482.31,445.80) scale(1.465,1)" font-size="19.33" font-weight="bold" fill="#2b2b2b" stroke="#2b2b2b" stroke-width="1.50" stroke-linejoin="round">М</text><text transform="translate(511.06,445.80) scale(1.398,1)" font-size="19.33" font-weight="bold" fill="#2b2b2b" stroke="#2b2b2b" stroke-width="1.57" stroke-linejoin="round">Ф</text><text transform="translate(536.03,445.80) scale(1.242,1)" font-size="19.33" font-weight="bold" fill="#2b2b2b" stroke="#2b2b2b" stroke-width="1.77" stroke-linejoin="round">Δ</text>
<text transform="translate(144.51,620.25) scale(1.422,1)" font-size="20.35" font-weight="bold" fill="#2b2b2b" stroke="#2b2b2b" stroke-width="1.76" stroke-linejoin="round">Г</text><text transform="translate(164.44,620.25) scale(1.181,1)" font-size="20.35" font-weight="bold" fill="#2b2b2b" stroke="#2b2b2b" stroke-width="2.12" stroke-linejoin="round">Р</text><text transform="translate(185.34,620.25) scale(1.207,1)" font-size="20.35" font-weight="bold" fill="#2b2b2b" stroke="#2b2b2b" stroke-width="2.07" stroke-linejoin="round">У</text><text transform="translate(199.98,620.25) scale(1.542,1)" font-size="20.35" font-weight="bold" fill="#2b2b2b" stroke="#2b2b2b" stroke-width="1.62" stroke-linejoin="round">Δ</text><text transform="translate(225.36,620.25) scale(0.945,1)" font-size="20.35" font-weight="bold" fill="#2b2b2b" stroke="#2b2b2b" stroke-width="2.65" stroke-linejoin="round">Н</text><text transform="translate(243.82,620.25) scale(1.351,1)" font-size="20.35" font-weight="bold" fill="#2b2b2b" stroke="#2b2b2b" stroke-width="1.85" stroke-linejoin="round">О</text><text transform="translate(268.28,620.25) scale(1.158,1)" font-size="20.35" font-weight="bold" fill="#2b2b2b" stroke="#2b2b2b" stroke-width="2.16" stroke-linejoin="round">Й</text>
<text transform="translate(300.39,620.90) scale(1.152,1)" font-size="21.51" font-weight="bold" fill="#2b2b2b" stroke="#2b2b2b" stroke-width="2.17" stroke-linejoin="round">П</text><text transform="translate(320.60,621.02) scale(1.150,1)" font-size="21.51" font-weight="bold" fill="#2b2b2b" stroke="#2b2b2b" stroke-width="2.17" stroke-linejoin="round">Р</text><text transform="translate(340.42,621.14) scale(1.057,1)" font-size="21.51" font-weight="bold" fill="#2b2b2b" stroke="#2b2b2b" stroke-width="2.37" stroke-linejoin="round">О</text><text transform="translate(361.08,621.26) scale(1.113,1)" font-size="21.51" font-weight="bold" fill="#2b2b2b" stroke="#2b2b2b" stroke-width="2.25" stroke-linejoin="round">Т</text><text transform="translate(377.55,621.37) scale(1.137,1)" font-size="21.51" font-weight="bold" fill="#2b2b2b" stroke="#2b2b2b" stroke-width="2.20" stroke-linejoin="round">О</text><text transform="translate(398.30,621.49) scale(1.356,1)" font-size="21.51" font-weight="bold" fill="#2b2b2b" stroke="#2b2b2b" stroke-width="1.84" stroke-linejoin="round">К</text>
</svg>
</body></html>
